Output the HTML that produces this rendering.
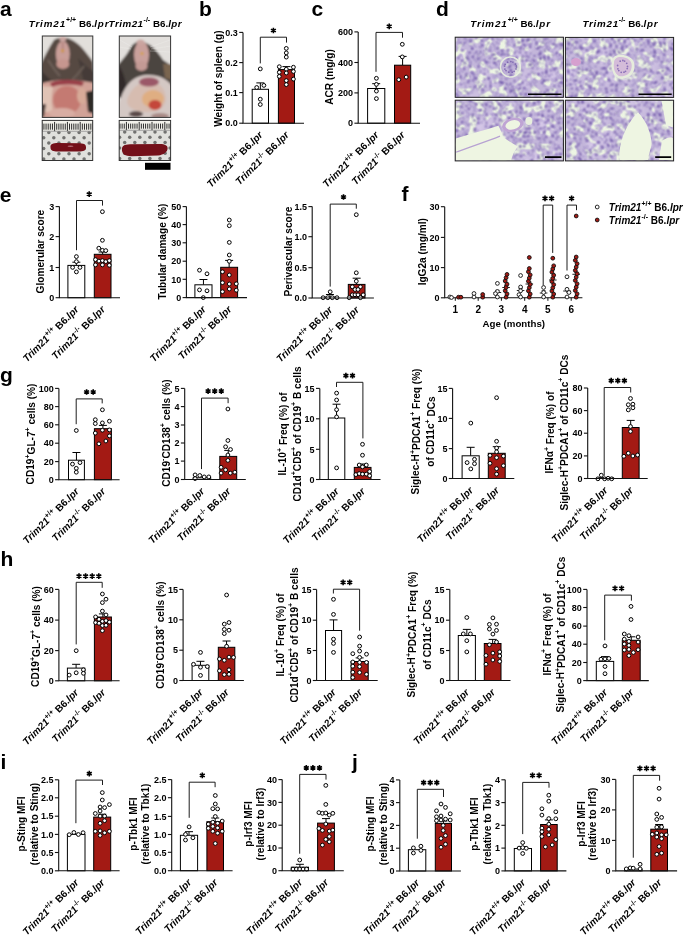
<!DOCTYPE html>
<html><head><meta charset="utf-8"><style>
html,body{margin:0;padding:0;background:#fff;}
svg{display:block;will-change:transform;}
text{font-family:"Liberation Sans", sans-serif;fill:#000;}
</style></head><body>
<svg width="685" height="936" viewBox="0 0 685 936">
<rect width="685" height="936" fill="#fff"/>
<defs>
<filter id="soft" x="-5%" y="-5%" width="110%" height="110%"><feGaussianBlur stdDeviation="1.1"/></filter>
<filter id="soft2"><feGaussianBlur stdDeviation="0.45"/></filter>
<linearGradient id="bgA" x1="0" y1="0" x2="0" y2="1"><stop offset="0" stop-color="#e9e7e6"/><stop offset="0.5" stop-color="#c8bdb8"/><stop offset="1" stop-color="#d8b1aa"/></linearGradient>
<pattern id="dotsA" width="6.5" height="6.5" patternUnits="userSpaceOnUse"><rect width="6.5" height="6.5" fill="#e6e6e6"/><circle cx="3.2" cy="3.2" r="1.5" fill="#6a6a6a"/></pattern>
<filter id="histoF0" x="0" y="0" width="1" height="1" color-interpolation-filters="sRGB">
<feFlood flood-color="#c3b6da" result="base"/>
<feTurbulence type="fractalNoise" baseFrequency="0.06" numOctaves="2" seed="8" result="n0"/>
<feColorMatrix in="n0" type="matrix" values="0 0 0 0 0.84  0 0 0 0 0.79  0 0 0 0 0.91  2.4 0 0 0 -1.05" result="tone"/>
<feTurbulence type="fractalNoise" baseFrequency="0.13 0.16" numOctaves="3" seed="3" result="n1"/>
<feColorMatrix in="n1" type="matrix" values="0 0 0 0 0.93  0 0 0 0 0.96  0 0 0 0 0.89  1 0 0 0 0" result="l1"/>
<feComponentTransfer in="l1" result="lum0"><feFuncA type="discrete" tableValues="0 0 0 0 0 0 0 0 0 0 0 0 0 0 0 0 0 0 0 0 0 0 0 0 0 0 0 0 0 1 1 1 1 1 1 1 1 1 1 1 1 1 1 1 1 1 1 1 1 1"/></feComponentTransfer>
<feGaussianBlur in="lum0" stdDeviation="1" result="lum1"/>
<feComponentTransfer in="lum1" result="lum"><feFuncA type="linear" slope="1.6" intercept="-0.2"/></feComponentTransfer>
<feTurbulence type="fractalNoise" baseFrequency="0.5" numOctaves="1" seed="14" result="n2"/>
<feColorMatrix in="n2" type="matrix" values="0 0 0 0 0.40  0 0 0 0 0.30  0 0 0 0 0.64  1 0 0 0 0" result="d1"/>
<feComponentTransfer in="d1" result="nuc0"><feFuncA type="discrete" tableValues="0 0 0 0 0 0 0 0 0 0 0 0 0 0 0 0 0 0 0 0 0 0 0 0 0 0 0 0 0 0 0 0 1 1 1 1 1 1 1 1 1 1 1 1 1 1 1 1 1 1"/></feComponentTransfer>
<feGaussianBlur in="nuc0" stdDeviation="1" result="nuc1"/>
<feComponentTransfer in="nuc1" result="nuc"><feFuncA type="linear" slope="1.5" intercept="0"/></feComponentTransfer>
<feMerge><feMergeNode in="base"/><feMergeNode in="tone"/><feMergeNode in="lum"/><feMergeNode in="nuc"/></feMerge>
</filter>
<filter id="histoF1" x="0" y="0" width="1" height="1" color-interpolation-filters="sRGB">
<feFlood flood-color="#c3b6da" result="base"/>
<feTurbulence type="fractalNoise" baseFrequency="0.06" numOctaves="2" seed="13" result="n0"/>
<feColorMatrix in="n0" type="matrix" values="0 0 0 0 0.84  0 0 0 0 0.79  0 0 0 0 0.91  2.4 0 0 0 -1.05" result="tone"/>
<feTurbulence type="fractalNoise" baseFrequency="0.13 0.16" numOctaves="3" seed="8" result="n1"/>
<feColorMatrix in="n1" type="matrix" values="0 0 0 0 0.93  0 0 0 0 0.96  0 0 0 0 0.89  1 0 0 0 0" result="l1"/>
<feComponentTransfer in="l1" result="lum0"><feFuncA type="discrete" tableValues="0 0 0 0 0 0 0 0 0 0 0 0 0 0 0 0 0 0 0 0 0 0 0 0 0 0 0 0 0 1 1 1 1 1 1 1 1 1 1 1 1 1 1 1 1 1 1 1 1 1"/></feComponentTransfer>
<feGaussianBlur in="lum0" stdDeviation="1" result="lum1"/>
<feComponentTransfer in="lum1" result="lum"><feFuncA type="linear" slope="1.6" intercept="-0.2"/></feComponentTransfer>
<feTurbulence type="fractalNoise" baseFrequency="0.5" numOctaves="1" seed="19" result="n2"/>
<feColorMatrix in="n2" type="matrix" values="0 0 0 0 0.40  0 0 0 0 0.30  0 0 0 0 0.64  1 0 0 0 0" result="d1"/>
<feComponentTransfer in="d1" result="nuc0"><feFuncA type="discrete" tableValues="0 0 0 0 0 0 0 0 0 0 0 0 0 0 0 0 0 0 0 0 0 0 0 0 0 0 0 0 0 0 0 0 1 1 1 1 1 1 1 1 1 1 1 1 1 1 1 1 1 1"/></feComponentTransfer>
<feGaussianBlur in="nuc0" stdDeviation="1" result="nuc1"/>
<feComponentTransfer in="nuc1" result="nuc"><feFuncA type="linear" slope="1.5" intercept="0"/></feComponentTransfer>
<feMerge><feMergeNode in="base"/><feMergeNode in="tone"/><feMergeNode in="lum"/><feMergeNode in="nuc"/></feMerge>
</filter>
<filter id="histoF2" x="0" y="0" width="1" height="1" color-interpolation-filters="sRGB">
<feFlood flood-color="#c3b6da" result="base"/>
<feTurbulence type="fractalNoise" baseFrequency="0.06" numOctaves="2" seed="18" result="n0"/>
<feColorMatrix in="n0" type="matrix" values="0 0 0 0 0.84  0 0 0 0 0.79  0 0 0 0 0.91  2.4 0 0 0 -1.05" result="tone"/>
<feTurbulence type="fractalNoise" baseFrequency="0.13 0.16" numOctaves="3" seed="13" result="n1"/>
<feColorMatrix in="n1" type="matrix" values="0 0 0 0 0.93  0 0 0 0 0.96  0 0 0 0 0.89  1 0 0 0 0" result="l1"/>
<feComponentTransfer in="l1" result="lum0"><feFuncA type="discrete" tableValues="0 0 0 0 0 0 0 0 0 0 0 0 0 0 0 0 0 0 0 0 0 0 0 0 0 0 0 0 0 1 1 1 1 1 1 1 1 1 1 1 1 1 1 1 1 1 1 1 1 1"/></feComponentTransfer>
<feGaussianBlur in="lum0" stdDeviation="1" result="lum1"/>
<feComponentTransfer in="lum1" result="lum"><feFuncA type="linear" slope="1.6" intercept="-0.2"/></feComponentTransfer>
<feTurbulence type="fractalNoise" baseFrequency="0.5" numOctaves="1" seed="24" result="n2"/>
<feColorMatrix in="n2" type="matrix" values="0 0 0 0 0.40  0 0 0 0 0.30  0 0 0 0 0.64  1 0 0 0 0" result="d1"/>
<feComponentTransfer in="d1" result="nuc0"><feFuncA type="discrete" tableValues="0 0 0 0 0 0 0 0 0 0 0 0 0 0 0 0 0 0 0 0 0 0 0 0 0 0 0 0 0 0 0 0 1 1 1 1 1 1 1 1 1 1 1 1 1 1 1 1 1 1"/></feComponentTransfer>
<feGaussianBlur in="nuc0" stdDeviation="1" result="nuc1"/>
<feComponentTransfer in="nuc1" result="nuc"><feFuncA type="linear" slope="1.5" intercept="0"/></feComponentTransfer>
<feMerge><feMergeNode in="base"/><feMergeNode in="tone"/><feMergeNode in="lum"/><feMergeNode in="nuc"/></feMerge>
</filter>
<filter id="histoF3" x="0" y="0" width="1" height="1" color-interpolation-filters="sRGB">
<feFlood flood-color="#c3b6da" result="base"/>
<feTurbulence type="fractalNoise" baseFrequency="0.06" numOctaves="2" seed="26" result="n0"/>
<feColorMatrix in="n0" type="matrix" values="0 0 0 0 0.84  0 0 0 0 0.79  0 0 0 0 0.91  2.4 0 0 0 -1.05" result="tone"/>
<feTurbulence type="fractalNoise" baseFrequency="0.13 0.16" numOctaves="3" seed="21" result="n1"/>
<feColorMatrix in="n1" type="matrix" values="0 0 0 0 0.93  0 0 0 0 0.96  0 0 0 0 0.89  1 0 0 0 0" result="l1"/>
<feComponentTransfer in="l1" result="lum0"><feFuncA type="discrete" tableValues="0 0 0 0 0 0 0 0 0 0 0 0 0 0 0 0 0 0 0 0 0 0 0 0 0 0 0 0 0 1 1 1 1 1 1 1 1 1 1 1 1 1 1 1 1 1 1 1 1 1"/></feComponentTransfer>
<feGaussianBlur in="lum0" stdDeviation="1" result="lum1"/>
<feComponentTransfer in="lum1" result="lum"><feFuncA type="linear" slope="1.6" intercept="-0.2"/></feComponentTransfer>
<feTurbulence type="fractalNoise" baseFrequency="0.5" numOctaves="1" seed="32" result="n2"/>
<feColorMatrix in="n2" type="matrix" values="0 0 0 0 0.40  0 0 0 0 0.30  0 0 0 0 0.64  1 0 0 0 0" result="d1"/>
<feComponentTransfer in="d1" result="nuc0"><feFuncA type="discrete" tableValues="0 0 0 0 0 0 0 0 0 0 0 0 0 0 0 0 0 0 0 0 0 0 0 0 0 0 0 0 0 0 0 0 1 1 1 1 1 1 1 1 1 1 1 1 1 1 1 1 1 1"/></feComponentTransfer>
<feGaussianBlur in="nuc0" stdDeviation="1" result="nuc1"/>
<feComponentTransfer in="nuc1" result="nuc"><feFuncA type="linear" slope="1.5" intercept="0"/></feComponentTransfer>
<feMerge><feMergeNode in="base"/><feMergeNode in="tone"/><feMergeNode in="lum"/><feMergeNode in="nuc"/></feMerge>
</filter>
</defs>
<text x="28.7" y="26.7" font-size="9.8" font-weight="bold"><tspan font-style="italic" letter-spacing="0.9">Trim21</tspan><tspan font-size="7.0" dy="-4.6">+/+</tspan><tspan dy="4.6"> B6.</tspan><tspan font-style="italic" letter-spacing="0.9">lpr</tspan></text>
<text x="108.6" y="26.7" font-size="9.8" font-weight="bold"><tspan font-style="italic" letter-spacing="0.5">Trim21</tspan><tspan font-size="7.0" dy="-4.6">-/-</tspan><tspan dy="4.6"> B6.</tspan><tspan font-style="italic" letter-spacing="0.5">lpr</tspan></text>
<clipPath id="cpA1"><rect x="42.3" y="36" width="50.5" height="81.4"/></clipPath>
<g clip-path="url(#cpA1)"><g filter="url(#soft)">
<rect x="40.3" y="34" width="54.5" height="85.4" fill="#e2dfdb"/>
<path d="M54 40 C58 37 67 37 72 40 C80 44 86 52 93 62 L95 92 L40 92 L40 66 C44 57 50 46 54 40Z" fill="#564943"/>
<path d="M40 70 C46 75 50 80 56 84 L40 88Z" fill="#3c3532"/>
<path d="M78 58 C84 64 90 70 95 72 L95 86 L84 82Z" fill="#443b37"/>
<path d="M48 60 C52 66 56 72 60 76" stroke="#6f625a" stroke-width="2" fill="none"/>
<path d="M84 66 C80 72 76 76 72 80" stroke="#6b5e57" stroke-width="2" fill="none"/>
<ellipse cx="62.8" cy="54" rx="7" ry="13" fill="#c99e98"/>
<ellipse cx="62.8" cy="64" rx="6.5" ry="5" fill="#c6968f"/>
<ellipse cx="62.8" cy="39" rx="3.5" ry="2.4" fill="#c9a5a0"/>
<path d="M62.8 42 L62.8 53" stroke="#a06f6c" stroke-width="1"/>
<circle cx="62.6" cy="50.8" r="1.4" fill="#d69a1c"/>
<path d="M40 84 C52 80 66 78 95 83 L95 120 L40 120Z" fill="#d1a297"/>
<path d="M50 83 C60 79 72 79 84 82 L82 86 C70 84 60 84 52 87Z" fill="#9a4048"/>
<path d="M40 86 L53 87 C51 96 51 104 53 112 L40 112Z" fill="#e0c3b5"/>
<ellipse cx="67" cy="100" rx="14" ry="14" fill="#c47a72"/>
<ellipse cx="62" cy="113" rx="13" ry="5" fill="#d8ada3"/>
<ellipse cx="82" cy="96" rx="5" ry="8" fill="#d7aa98"/>
<path d="M86 92 L95 90 L95 114 L88 112Z" fill="#2f2a28"/>
<path d="M40 104 L46 104 L44 117 L40 117Z" fill="#4a3b38"/>
</g></g>
<rect x="42.3" y="36" width="50.5" height="81.4" fill="none" stroke="#333" stroke-width="1"/>
<clipPath id="cpA2"><rect x="119.3" y="36" width="51.3" height="81.4"/></clipPath>
<g clip-path="url(#cpA2)"><g filter="url(#soft)">
<rect x="117.3" y="34" width="55.3" height="85.4" fill="#e2dfdc"/>
<path d="M131 47 C134 42 140 40 146 43 C153 46 158 52 163 60 L172 66 L172 95 L117 98 L117 66 C122 60 127 55 131 47Z" fill="#4c4440"/>
<path d="M117 64 C122 68 126 78 128 98 L117 98Z" fill="#312c2b"/>
<path d="M163 64 L172 64 L172 80 L165 78Z" fill="#7a6550"/>
<ellipse cx="141.5" cy="55" rx="7.5" ry="14" fill="#c9a09b"/>
<ellipse cx="141.5" cy="66" rx="6" ry="5" fill="#c39a95"/>
<ellipse cx="140.5" cy="42" rx="4" ry="2.6" fill="#caa6a1"/>
<circle cx="142" cy="53.6" r="1.4" fill="#d6a030"/>
<path d="M119 104 C123 88 131 76 146 75 C160 74 168 80 172 86 L172 120 L117 120Z" fill="#d4c8c4"/>
<path d="M127 101 C130 89 138 82 149 82 C159 82 165 88 166 98 C166 106 160 112 148 112 C136 112 127 108 127 101Z" fill="#d6bcb0"/>
<ellipse cx="149" cy="82" rx="10" ry="4.5" fill="#9b5867"/>
<ellipse cx="153" cy="99" rx="11" ry="9" fill="#dfae82"/>
<ellipse cx="155" cy="105" rx="6.5" ry="5" fill="#c4473a"/>
<ellipse cx="136" cy="114" rx="7" ry="3" fill="#5a4a48"/>
<ellipse cx="160" cy="116" rx="9" ry="3" fill="#a98a86"/>
</g></g>
<g stroke="#f4f2f0" stroke-width="0.35" opacity="0.8"><path d="M150 47 L170 40M151 49 L171 46M150 51 L170 52M132 47 L120 40M131 49 L119 47"/></g>
<rect x="119.3" y="36" width="51.3" height="81.4" fill="none" stroke="#333" stroke-width="1"/>
<clipPath id="cpS1"><rect x="42.2" y="120.4" width="50.5" height="40.099999999999994"/></clipPath>
<g clip-path="url(#cpS1)">
<rect x="42.2" y="120.4" width="50.5" height="40.099999999999994" fill="#e0e0dc"/>
<g fill="#727270" filter="url(#soft2)"><circle cx="38.70" cy="132.50" r="1.75"/><circle cx="48.80" cy="132.50" r="1.75"/><circle cx="58.90" cy="132.50" r="1.75"/><circle cx="69.00" cy="132.50" r="1.75"/><circle cx="79.10" cy="132.50" r="1.75"/><circle cx="89.20" cy="132.50" r="1.75"/><circle cx="43.70" cy="137.80" r="1.75"/><circle cx="53.80" cy="137.80" r="1.75"/><circle cx="63.90" cy="137.80" r="1.75"/><circle cx="74.00" cy="137.80" r="1.75"/><circle cx="84.10" cy="137.80" r="1.75"/><circle cx="94.20" cy="137.80" r="1.75"/><circle cx="38.70" cy="143.10" r="1.75"/><circle cx="48.80" cy="143.10" r="1.75"/><circle cx="58.90" cy="143.10" r="1.75"/><circle cx="69.00" cy="143.10" r="1.75"/><circle cx="79.10" cy="143.10" r="1.75"/><circle cx="89.20" cy="143.10" r="1.75"/><circle cx="43.70" cy="148.40" r="1.75"/><circle cx="53.80" cy="148.40" r="1.75"/><circle cx="63.90" cy="148.40" r="1.75"/><circle cx="74.00" cy="148.40" r="1.75"/><circle cx="84.10" cy="148.40" r="1.75"/><circle cx="94.20" cy="148.40" r="1.75"/><circle cx="38.70" cy="153.70" r="1.75"/><circle cx="48.80" cy="153.70" r="1.75"/><circle cx="58.90" cy="153.70" r="1.75"/><circle cx="69.00" cy="153.70" r="1.75"/><circle cx="79.10" cy="153.70" r="1.75"/><circle cx="89.20" cy="153.70" r="1.75"/><circle cx="43.70" cy="159.00" r="1.75"/><circle cx="53.80" cy="159.00" r="1.75"/><circle cx="63.90" cy="159.00" r="1.75"/><circle cx="74.00" cy="159.00" r="1.75"/><circle cx="84.10" cy="159.00" r="1.75"/><circle cx="94.20" cy="159.00" r="1.75"/></g>
<rect x="42.2" y="120.4" width="50.5" height="10.80" fill="#f2f1ea"/>
<path d="M41.80 121.90V131.20M43.93 123.60V129.70M46.06 123.60V129.70M48.19 123.60V129.70M50.32 123.60V129.70M52.45 123.60V129.70M54.60 121.90V131.20M56.73 123.60V129.70M58.86 123.60V129.70M60.99 123.60V129.70M63.12 123.60V129.70M65.25 123.60V129.70M67.40 121.90V131.20M69.53 123.60V129.70M71.66 123.60V129.70M73.79 123.60V129.70M75.92 123.60V129.70M78.05 123.60V129.70M80.20 121.90V131.20M82.33 123.60V129.70M84.46 123.60V129.70M86.59 123.60V129.70M88.72 123.60V129.70M90.85 123.60V129.70M93.00 121.90V131.20M95.13 123.60V129.70M97.26 123.60V129.70M99.39 123.60V129.70M101.52 123.60V129.70M103.65 123.60V129.70" stroke="#222" stroke-width="0.95"/>
<path d="M42.2 131.20H92.7" stroke="#888" stroke-width="0.8"/>
<path d="M50.5 147.5 C50 144 53 143 58 143 L80 143.2 C85 143.4 86 145 86 147.3 C86 150 84.5 151.5 80 151.4 L56 151.4 C52 151.3 50.6 150 50.5 147.5Z" fill="#741019"/>
<ellipse cx="70.5" cy="146.2" rx="3" ry="0.8" fill="#b06870"/>
</g>
<rect x="42.2" y="120.4" width="50.5" height="40.099999999999994" fill="none" stroke="#333" stroke-width="1"/>
<clipPath id="cpS2"><rect x="119.2" y="120.4" width="51.39999999999999" height="40.099999999999994"/></clipPath>
<g clip-path="url(#cpS2)">
<rect x="119.2" y="120.4" width="51.39999999999999" height="40.099999999999994" fill="#e0e0dc"/>
<g fill="#727270" filter="url(#soft2)"><circle cx="114.60" cy="132.00" r="1.75"/><circle cx="124.70" cy="132.00" r="1.75"/><circle cx="134.80" cy="132.00" r="1.75"/><circle cx="144.90" cy="132.00" r="1.75"/><circle cx="155.00" cy="132.00" r="1.75"/><circle cx="165.10" cy="132.00" r="1.75"/><circle cx="119.60" cy="137.30" r="1.75"/><circle cx="129.70" cy="137.30" r="1.75"/><circle cx="139.80" cy="137.30" r="1.75"/><circle cx="149.90" cy="137.30" r="1.75"/><circle cx="160.00" cy="137.30" r="1.75"/><circle cx="170.10" cy="137.30" r="1.75"/><circle cx="114.60" cy="142.60" r="1.75"/><circle cx="124.70" cy="142.60" r="1.75"/><circle cx="134.80" cy="142.60" r="1.75"/><circle cx="144.90" cy="142.60" r="1.75"/><circle cx="155.00" cy="142.60" r="1.75"/><circle cx="165.10" cy="142.60" r="1.75"/><circle cx="119.60" cy="147.90" r="1.75"/><circle cx="129.70" cy="147.90" r="1.75"/><circle cx="139.80" cy="147.90" r="1.75"/><circle cx="149.90" cy="147.90" r="1.75"/><circle cx="160.00" cy="147.90" r="1.75"/><circle cx="170.10" cy="147.90" r="1.75"/><circle cx="114.60" cy="153.20" r="1.75"/><circle cx="124.70" cy="153.20" r="1.75"/><circle cx="134.80" cy="153.20" r="1.75"/><circle cx="144.90" cy="153.20" r="1.75"/><circle cx="155.00" cy="153.20" r="1.75"/><circle cx="165.10" cy="153.20" r="1.75"/><circle cx="119.60" cy="158.50" r="1.75"/><circle cx="129.70" cy="158.50" r="1.75"/><circle cx="139.80" cy="158.50" r="1.75"/><circle cx="149.90" cy="158.50" r="1.75"/><circle cx="160.00" cy="158.50" r="1.75"/><circle cx="170.10" cy="158.50" r="1.75"/></g>
<rect x="119.2" y="120.4" width="51.39999999999999" height="9.80" fill="#f2f1ea"/>
<path d="M113.60 121.90V130.20M115.73 123.60V128.70M117.86 123.60V128.70M119.99 123.60V128.70M122.12 123.60V128.70M124.25 123.60V128.70M126.40 121.90V130.20M128.53 123.60V128.70M130.66 123.60V128.70M132.79 123.60V128.70M134.92 123.60V128.70M137.05 123.60V128.70M139.20 121.90V130.20M141.33 123.60V128.70M143.46 123.60V128.70M145.59 123.60V128.70M147.72 123.60V128.70M149.85 123.60V128.70M152.00 121.90V130.20M154.13 123.60V128.70M156.26 123.60V128.70M158.39 123.60V128.70M160.52 123.60V128.70M162.65 123.60V128.70M164.80 121.90V130.20M166.93 123.60V128.70M169.06 123.60V128.70M171.19 123.60V128.70M173.32 123.60V128.70M175.45 123.60V128.70" stroke="#222" stroke-width="0.95"/>
<path d="M119.2 130.20H170.6" stroke="#888" stroke-width="0.8"/>
<path d="M122 150.5 C121.5 146 124 144.5 130 144.3 L160 144 C165 144 167.8 145.5 167.6 148.5 C167.4 152 164 154.8 158 155.5 L132 156.2 C125 156.3 122.3 154 122 150.5Z" fill="#741019"/>
</g>
<rect x="119.2" y="120.4" width="51.39999999999999" height="40.099999999999994" fill="none" stroke="#333" stroke-width="1"/>
<rect x="145" y="162.8" width="25.5" height="7" fill="#000"/>
<text x="470.3" y="27" font-size="9.8" font-weight="bold"><tspan font-style="italic" letter-spacing="0.9">Trim21</tspan><tspan font-size="7.0" dy="-4.6">+/+</tspan><tspan dy="4.6"> B6.</tspan><tspan font-style="italic" letter-spacing="0.9">lpr</tspan></text>
<text x="582.4" y="26.6" font-size="9.8" font-weight="bold"><tspan font-style="italic" letter-spacing="0.75">Trim21</tspan><tspan font-size="7.0" dy="-4.6">-/-</tspan><tspan dy="4.6"> B6.</tspan><tspan font-style="italic" letter-spacing="0.75">lpr</tspan></text>
<rect x="455.2" y="37.2" width="108.20" height="60.10" filter="url(#histoF0)" fill="#c4b6dc"/>
<rect x="565.4" y="37.4" width="108.20" height="60.00" filter="url(#histoF1)" fill="#c4b6dc"/>
<rect x="455.2" y="100.2" width="108.20" height="60.70" filter="url(#histoF2)" fill="#c4b6dc"/>
<rect x="565.4" y="100.2" width="108.20" height="60.70" filter="url(#histoF3)" fill="#c4b6dc"/>
<circle cx="510.4" cy="67" r="10" fill="none" stroke="#e9f1df" stroke-width="1.6" opacity="0.9"/>
<g fill="#7058a8" opacity="0.75"><circle cx="516.4" cy="67.0" r="0.9"/><circle cx="506.0" cy="70.6" r="0.9"/><circle cx="510.9" cy="61.6" r="0.9"/><circle cx="514.1" cy="71.3" r="0.9"/><circle cx="504.5" cy="66.1" r="0.9"/><circle cx="515.5" cy="64.1" r="0.9"/><circle cx="508.8" cy="72.2" r="0.9"/><circle cx="507.6" cy="62.2" r="0.9"/><circle cx="516.0" cy="68.9" r="0.9"/><circle cx="504.9" cy="69.1" r="0.9"/><circle cx="512.9" cy="62.1" r="0.9"/><circle cx="512.2" cy="72.2" r="0.9"/><circle cx="505.2" cy="64.3" r="0.9"/><circle cx="516.3" cy="65.8" r="0.9"/></g>
<path d="M612 62 C612 55 620 53 627 56 C633 58 636 63 634 70 C632 77 625 80 618 78 C613 76 611 69 612 62Z" fill="#e6ecdc"/>
<path d="M614 63 C614 57 620 56 626 58 C631 60 633 64 631 70 C629 75 624 77 619 76 C615 74 613 68 614 63Z" fill="#d4bcd9"/>
<g fill="#7a5fb0" opacity="0.8"><circle cx="627.5" cy="66.5" r="0.9"/><circle cx="618.8" cy="70.6" r="0.9"/><circle cx="622.9" cy="60.5" r="0.9"/><circle cx="625.5" cy="71.3" r="0.9"/><circle cx="617.6" cy="65.5" r="0.9"/><circle cx="626.7" cy="63.3" r="0.9"/><circle cx="621.2" cy="72.3" r="0.9"/><circle cx="620.2" cy="61.2" r="0.9"/><circle cx="627.2" cy="68.6" r="0.9"/><circle cx="617.9" cy="68.8" r="0.9"/><circle cx="624.6" cy="61.1" r="0.9"/><circle cx="624.0" cy="72.2" r="0.9"/></g>
<ellipse cx="576" cy="62" rx="5" ry="4" fill="#d6a0cf"/>
<path d="M455.7 138.5 C470 134 485 130 498.4 125.7 C501 130 502 134 503 137 C508 141 513 143 517.6 146.6 C515 151 512 155 511.2 160.4 L455.7 160.4Z" fill="#eef5e2"/>
<path d="M455.7 152.2 C470 147 488 141 500 136.1" stroke="#b7a2d2" stroke-width="1.2" fill="none"/>
<ellipse cx="512.8" cy="124.9" rx="11" ry="6.8" transform="rotate(-15 512.8 124.9)" fill="#bfa4d4"/>
<ellipse cx="512.8" cy="124.9" rx="7.5" ry="4.6" transform="rotate(-15 512.8 124.9)" fill="#eef5e2"/>
<ellipse cx="528.9" cy="121" rx="3.5" ry="4" fill="#e8efdd"/>
<path d="M619.6 159.9 C618 145 625 125 638 112.3 C646 120 652 135 651.5 145 C650 152 648 157 648 159.9Z" fill="#eef5e2"/>
<path d="M661.5 100.8 L672.9 100.8 L672.9 127.4 L666 125 Z" fill="#eef5e2"/>
<path d="M662 140.8 C666 138 672 136 672.9 138 L672.9 159.9 L659 159.9Z" fill="#eef5e2"/>
<rect x="455.2" y="37.2" width="108.20" height="60.10" fill="none" stroke="#222" stroke-width="1"/>
<rect x="565.4" y="37.4" width="108.20" height="60.00" fill="none" stroke="#222" stroke-width="1"/>
<rect x="455.2" y="100.2" width="108.20" height="60.70" fill="none" stroke="#222" stroke-width="1"/>
<rect x="565.4" y="100.2" width="108.20" height="60.70" fill="none" stroke="#222" stroke-width="1"/>
<path d="M528 94.3H561.5M638.5 94.3H671.7M545 157.1H561.5M655.2 157.1H671.2" stroke="#000" stroke-width="1.6"/>
<path d="M260.35 89.30V82.90M256.35 82.90H264.35" stroke="#000" stroke-width="1" fill="none"/>
<path d="M286.45 69.60V66.60M282.45 66.60H290.45" stroke="#000" stroke-width="1" fill="none"/>
<rect x="252.20" y="89.30" width="16.30" height="33.90" fill="#fff" stroke="#000" stroke-width="1"/>
<rect x="278.40" y="69.60" width="16.10" height="53.60" fill="#a31a14" stroke="#000" stroke-width="1"/>
<circle cx="260.30" cy="68.90" r="1.9" fill="#fff" stroke="#000" stroke-width="1.0"/>
<circle cx="256.70" cy="87.50" r="1.9" fill="#fff" stroke="#000" stroke-width="1.0"/>
<circle cx="263.90" cy="85.40" r="1.9" fill="#fff" stroke="#000" stroke-width="1.0"/>
<circle cx="260.30" cy="99.20" r="1.9" fill="#fff" stroke="#000" stroke-width="1.0"/>
<circle cx="260.30" cy="104.50" r="1.9" fill="#fff" stroke="#000" stroke-width="1.0"/>
<circle cx="286.30" cy="48.40" r="1.9" fill="#fff" stroke="#000" stroke-width="1.0"/>
<circle cx="286.30" cy="52.90" r="1.9" fill="#fff" stroke="#000" stroke-width="1.0"/>
<circle cx="286.30" cy="57.10" r="1.9" fill="#fff" stroke="#000" stroke-width="1.0"/>
<circle cx="279.30" cy="66.70" r="1.9" fill="#fff" stroke="#000" stroke-width="1.0"/>
<circle cx="293.40" cy="67.20" r="1.9" fill="#fff" stroke="#000" stroke-width="1.0"/>
<circle cx="286.30" cy="69.20" r="1.9" fill="#fff" stroke="#000" stroke-width="1.0"/>
<circle cx="279.30" cy="72.30" r="1.9" fill="#fff" stroke="#000" stroke-width="1.0"/>
<circle cx="293.40" cy="71.50" r="1.9" fill="#fff" stroke="#000" stroke-width="1.0"/>
<circle cx="286.30" cy="73.00" r="1.9" fill="#fff" stroke="#000" stroke-width="1.0"/>
<circle cx="279.30" cy="76.40" r="1.9" fill="#fff" stroke="#000" stroke-width="1.0"/>
<circle cx="293.40" cy="79.10" r="1.9" fill="#fff" stroke="#000" stroke-width="1.0"/>
<circle cx="286.30" cy="80.60" r="1.9" fill="#fff" stroke="#000" stroke-width="1.0"/>
<circle cx="286.30" cy="84.60" r="1.9" fill="#fff" stroke="#000" stroke-width="1.0"/>
<path d="M243.00 32.40V123.20H304.00" stroke="#111" stroke-width="1.1" fill="none"/>
<path d="M239.20 123.20H243.00" stroke="#111" stroke-width="1.1"/>
<text x="237.80" y="126.45" font-size="9.0" font-weight="bold" text-anchor="end" >0.0</text>
<path d="M239.20 92.60H243.00" stroke="#111" stroke-width="1.1"/>
<text x="237.80" y="95.85" font-size="9.0" font-weight="bold" text-anchor="end" >0.1</text>
<path d="M239.20 62.60H243.00" stroke="#111" stroke-width="1.1"/>
<text x="237.80" y="65.85" font-size="9.0" font-weight="bold" text-anchor="end" >0.2</text>
<path d="M239.20 32.40H243.00" stroke="#111" stroke-width="1.1"/>
<text x="237.80" y="35.65" font-size="9.0" font-weight="bold" text-anchor="end" >0.3</text>
<path d="M260.30 63.40V37.20H286.50V42.60" stroke="#111" stroke-width="0.95" fill="none"/>
<path d="M273.40 27.65L273.40 33.35M270.93 29.07L275.87 31.93M275.87 29.07L270.93 31.93" stroke="#000" stroke-width="1.6"/>
<text transform="translate(218.00,78.60) rotate(-90)" font-size="10.1" font-weight="bold" text-anchor="middle" dominant-baseline="central">Weight of spleen (g)</text>
<text transform="translate(263.35,135.60) rotate(-45)" font-size="10.0" font-weight="bold" text-anchor="end"><tspan font-style="italic">Trim21</tspan><tspan font-size="7.2" dy="-4.2">+/+</tspan><tspan dy="4.2"> B6.</tspan><tspan font-style="italic">lpr</tspan></text>
<text transform="translate(289.45,135.60) rotate(-45)" font-size="10.0" font-weight="bold" text-anchor="end"><tspan font-style="italic">Trim21</tspan><tspan font-size="7.2" dy="-4.2">-/-</tspan><tspan dy="4.2"> B6.</tspan><tspan font-style="italic">lpr</tspan></text>
<path d="M376.20 88.50V83.70M372.20 83.70H380.20" stroke="#000" stroke-width="1" fill="none"/>
<path d="M402.60 65.20V56.40M398.60 56.40H406.60" stroke="#000" stroke-width="1" fill="none"/>
<rect x="367.60" y="88.50" width="17.20" height="34.70" fill="#fff" stroke="#000" stroke-width="1"/>
<rect x="394.50" y="65.20" width="16.20" height="58.00" fill="#a31a14" stroke="#000" stroke-width="1"/>
<circle cx="376.40" cy="78.30" r="1.9" fill="#fff" stroke="#000" stroke-width="1.0"/>
<circle cx="376.40" cy="84.40" r="1.9" fill="#fff" stroke="#000" stroke-width="1.0"/>
<circle cx="376.40" cy="91.10" r="1.9" fill="#fff" stroke="#000" stroke-width="1.0"/>
<circle cx="376.40" cy="98.60" r="1.9" fill="#fff" stroke="#000" stroke-width="1.0"/>
<circle cx="402.30" cy="44.30" r="1.9" fill="#fff" stroke="#000" stroke-width="1.0"/>
<circle cx="402.30" cy="56.90" r="1.9" fill="#fff" stroke="#000" stroke-width="1.0"/>
<circle cx="398.80" cy="79.70" r="1.9" fill="#fff" stroke="#000" stroke-width="1.0"/>
<circle cx="406.20" cy="77.10" r="1.9" fill="#fff" stroke="#000" stroke-width="1.0"/>
<path d="M358.20 31.90V123.20H420.00" stroke="#111" stroke-width="1.1" fill="none"/>
<path d="M354.40 123.20H358.20" stroke="#111" stroke-width="1.1"/>
<text x="353.00" y="126.45" font-size="9.0" font-weight="bold" text-anchor="end" >0</text>
<path d="M354.40 92.90H358.20" stroke="#111" stroke-width="1.1"/>
<text x="353.00" y="96.15" font-size="9.0" font-weight="bold" text-anchor="end" >200</text>
<path d="M354.40 62.50H358.20" stroke="#111" stroke-width="1.1"/>
<text x="353.00" y="65.75" font-size="9.0" font-weight="bold" text-anchor="end" >400</text>
<path d="M354.40 31.90H358.20" stroke="#111" stroke-width="1.1"/>
<text x="353.00" y="35.15" font-size="9.0" font-weight="bold" text-anchor="end" >600</text>
<path d="M376.00 71.80V32.40H402.50V37.70" stroke="#111" stroke-width="0.95" fill="none"/>
<path d="M389.20 23.45L389.20 29.15M386.73 24.88L391.67 27.73M391.67 24.88L386.73 27.73" stroke="#000" stroke-width="1.6"/>
<text transform="translate(329.60,77.00) rotate(-90)" font-size="10.1" font-weight="bold" text-anchor="middle" dominant-baseline="central">ACR (mg/g)</text>
<text transform="translate(379.20,135.60) rotate(-45)" font-size="10.0" font-weight="bold" text-anchor="end"><tspan font-style="italic">Trim21</tspan><tspan font-size="7.2" dy="-4.2">+/+</tspan><tspan dy="4.2"> B6.</tspan><tspan font-style="italic">lpr</tspan></text>
<text transform="translate(405.60,135.60) rotate(-45)" font-size="10.0" font-weight="bold" text-anchor="end"><tspan font-style="italic">Trim21</tspan><tspan font-size="7.2" dy="-4.2">-/-</tspan><tspan dy="4.2"> B6.</tspan><tspan font-style="italic">lpr</tspan></text>
<path d="M76.35 265.40V262.20M72.35 262.20H80.35" stroke="#000" stroke-width="1" fill="none"/>
<path d="M102.65 254.30V252.00M98.65 252.00H106.65" stroke="#000" stroke-width="1" fill="none"/>
<rect x="67.90" y="265.40" width="16.90" height="32.30" fill="#fff" stroke="#000" stroke-width="1"/>
<rect x="94.30" y="254.30" width="16.70" height="43.40" fill="#a31a14" stroke="#000" stroke-width="1"/>
<circle cx="76.40" cy="256.60" r="1.9" fill="#fff" stroke="#000" stroke-width="1.0"/>
<circle cx="76.40" cy="261.60" r="1.9" fill="#fff" stroke="#000" stroke-width="1.0"/>
<circle cx="72.60" cy="267.40" r="1.9" fill="#fff" stroke="#000" stroke-width="1.0"/>
<circle cx="80.00" cy="267.40" r="1.9" fill="#fff" stroke="#000" stroke-width="1.0"/>
<circle cx="76.40" cy="271.90" r="1.9" fill="#fff" stroke="#000" stroke-width="1.0"/>
<circle cx="102.40" cy="211.70" r="1.9" fill="#fff" stroke="#000" stroke-width="1.0"/>
<circle cx="102.40" cy="240.30" r="1.9" fill="#fff" stroke="#000" stroke-width="1.0"/>
<circle cx="98.80" cy="248.20" r="1.9" fill="#fff" stroke="#000" stroke-width="1.0"/>
<circle cx="102.40" cy="250.30" r="1.9" fill="#fff" stroke="#000" stroke-width="1.0"/>
<circle cx="105.80" cy="250.60" r="1.9" fill="#fff" stroke="#000" stroke-width="1.0"/>
<circle cx="95.50" cy="259.60" r="1.9" fill="#fff" stroke="#000" stroke-width="1.0"/>
<circle cx="98.90" cy="261.10" r="1.9" fill="#fff" stroke="#000" stroke-width="1.0"/>
<circle cx="102.40" cy="260.60" r="1.9" fill="#fff" stroke="#000" stroke-width="1.0"/>
<circle cx="105.80" cy="261.60" r="1.9" fill="#fff" stroke="#000" stroke-width="1.0"/>
<circle cx="109.30" cy="260.60" r="1.9" fill="#fff" stroke="#000" stroke-width="1.0"/>
<circle cx="95.50" cy="264.90" r="1.9" fill="#fff" stroke="#000" stroke-width="1.0"/>
<circle cx="102.40" cy="264.90" r="1.9" fill="#fff" stroke="#000" stroke-width="1.0"/>
<circle cx="109.30" cy="265.30" r="1.9" fill="#fff" stroke="#000" stroke-width="1.0"/>
<path d="M59.40 206.60V297.70H120.00" stroke="#111" stroke-width="1.1" fill="none"/>
<path d="M55.60 297.70H59.40" stroke="#111" stroke-width="1.1"/>
<text x="54.20" y="300.95" font-size="9.0" font-weight="bold" text-anchor="end" >0</text>
<path d="M55.60 267.50H59.40" stroke="#111" stroke-width="1.1"/>
<text x="54.20" y="270.75" font-size="9.0" font-weight="bold" text-anchor="end" >1</text>
<path d="M55.60 236.60H59.40" stroke="#111" stroke-width="1.1"/>
<text x="54.20" y="239.85" font-size="9.0" font-weight="bold" text-anchor="end" >2</text>
<path d="M55.60 206.60H59.40" stroke="#111" stroke-width="1.1"/>
<text x="54.20" y="209.85" font-size="9.0" font-weight="bold" text-anchor="end" >3</text>
<path d="M76.50 250.20V200.50H102.50V205.60" stroke="#111" stroke-width="0.95" fill="none"/>
<path d="M89.20 191.35L89.20 197.05M86.73 192.77L91.67 195.62M91.67 192.77L86.73 195.62" stroke="#000" stroke-width="1.6"/>
<text transform="translate(40.40,251.60) rotate(-90)" font-size="10.1" font-weight="bold" text-anchor="middle" dominant-baseline="central">Glomerular score</text>
<text transform="translate(79.35,310.10) rotate(-45)" font-size="10.0" font-weight="bold" text-anchor="end"><tspan font-style="italic">Trim21</tspan><tspan font-size="7.2" dy="-4.2">+/+</tspan><tspan dy="4.2"> B6.</tspan><tspan font-style="italic">lpr</tspan></text>
<text transform="translate(105.65,310.10) rotate(-45)" font-size="10.0" font-weight="bold" text-anchor="end"><tspan font-style="italic">Trim21</tspan><tspan font-size="7.2" dy="-4.2">-/-</tspan><tspan dy="4.2"> B6.</tspan><tspan font-style="italic">lpr</tspan></text>
<path d="M203.45 284.80V279.50M199.45 279.50H207.45" stroke="#000" stroke-width="1" fill="none"/>
<path d="M229.15 267.30V260.40M225.15 260.40H233.15" stroke="#000" stroke-width="1" fill="none"/>
<rect x="194.90" y="284.80" width="17.10" height="12.80" fill="#fff" stroke="#000" stroke-width="1"/>
<rect x="220.70" y="267.30" width="16.90" height="30.30" fill="#a31a14" stroke="#000" stroke-width="1"/>
<circle cx="199.50" cy="270.20" r="1.9" fill="#fff" stroke="#000" stroke-width="1.0"/>
<circle cx="207.00" cy="273.80" r="1.9" fill="#fff" stroke="#000" stroke-width="1.0"/>
<circle cx="199.50" cy="289.90" r="1.9" fill="#fff" stroke="#000" stroke-width="1.0"/>
<circle cx="207.00" cy="290.80" r="1.9" fill="#fff" stroke="#000" stroke-width="1.0"/>
<circle cx="203.30" cy="297.60" r="1.9" fill="#fff" stroke="#000" stroke-width="1.0"/>
<circle cx="229.30" cy="220.00" r="1.9" fill="#fff" stroke="#000" stroke-width="1.0"/>
<circle cx="229.30" cy="225.70" r="1.9" fill="#fff" stroke="#000" stroke-width="1.0"/>
<circle cx="229.30" cy="242.40" r="1.9" fill="#fff" stroke="#000" stroke-width="1.0"/>
<circle cx="229.30" cy="255.00" r="1.9" fill="#fff" stroke="#000" stroke-width="1.0"/>
<circle cx="229.30" cy="261.30" r="1.9" fill="#fff" stroke="#000" stroke-width="1.0"/>
<circle cx="222.50" cy="271.80" r="1.9" fill="#fff" stroke="#000" stroke-width="1.0"/>
<circle cx="229.30" cy="275.00" r="1.9" fill="#fff" stroke="#000" stroke-width="1.0"/>
<circle cx="222.50" cy="282.70" r="1.9" fill="#fff" stroke="#000" stroke-width="1.0"/>
<circle cx="229.30" cy="284.00" r="1.9" fill="#fff" stroke="#000" stroke-width="1.0"/>
<circle cx="236.30" cy="283.80" r="1.9" fill="#fff" stroke="#000" stroke-width="1.0"/>
<circle cx="229.30" cy="289.00" r="1.9" fill="#fff" stroke="#000" stroke-width="1.0"/>
<circle cx="236.30" cy="290.20" r="1.9" fill="#fff" stroke="#000" stroke-width="1.0"/>
<circle cx="222.50" cy="291.70" r="1.9" fill="#fff" stroke="#000" stroke-width="1.0"/>
<path d="M186.40 206.60V297.60H247.00" stroke="#111" stroke-width="1.1" fill="none"/>
<path d="M182.60 297.60H186.40" stroke="#111" stroke-width="1.1"/>
<text x="181.20" y="300.85" font-size="9.0" font-weight="bold" text-anchor="end" >0</text>
<path d="M182.60 279.30H186.40" stroke="#111" stroke-width="1.1"/>
<text x="181.20" y="282.55" font-size="9.0" font-weight="bold" text-anchor="end" >10</text>
<path d="M182.60 261.20H186.40" stroke="#111" stroke-width="1.1"/>
<text x="181.20" y="264.45" font-size="9.0" font-weight="bold" text-anchor="end" >20</text>
<path d="M182.60 242.80H186.40" stroke="#111" stroke-width="1.1"/>
<text x="181.20" y="246.05" font-size="9.0" font-weight="bold" text-anchor="end" >30</text>
<path d="M182.60 224.60H186.40" stroke="#111" stroke-width="1.1"/>
<text x="181.20" y="227.85" font-size="9.0" font-weight="bold" text-anchor="end" >40</text>
<path d="M182.60 206.60H186.40" stroke="#111" stroke-width="1.1"/>
<text x="181.20" y="209.85" font-size="9.0" font-weight="bold" text-anchor="end" >50</text>
<text transform="translate(162.30,251.60) rotate(-90)" font-size="10.1" font-weight="bold" text-anchor="middle" dominant-baseline="central">Tubular damage (%)</text>
<text transform="translate(206.45,310.00) rotate(-45)" font-size="10.0" font-weight="bold" text-anchor="end"><tspan font-style="italic">Trim21</tspan><tspan font-size="7.2" dy="-4.2">+/+</tspan><tspan dy="4.2"> B6.</tspan><tspan font-style="italic">lpr</tspan></text>
<text transform="translate(232.15,310.00) rotate(-45)" font-size="10.0" font-weight="bold" text-anchor="end"><tspan font-style="italic">Trim21</tspan><tspan font-size="7.2" dy="-4.2">-/-</tspan><tspan dy="4.2"> B6.</tspan><tspan font-style="italic">lpr</tspan></text>
<path d="M329.95 297.30V294.50M325.95 294.50H333.95" stroke="#000" stroke-width="1" fill="none"/>
<path d="M356.65 284.40V278.20M352.65 278.20H360.65" stroke="#000" stroke-width="1" fill="none"/>
<path d="M321.70 298.00V297.00H338.20V298.00" fill="none" stroke="#000" stroke-width="1"/>
<rect x="348.30" y="284.40" width="16.70" height="13.60" fill="#a31a14" stroke="#000" stroke-width="1"/>
<circle cx="330.20" cy="291.80" r="1.9" fill="#fff" stroke="#000" stroke-width="1.0"/>
<circle cx="323.10" cy="297.70" r="1.9" fill="#fff" stroke="#000" stroke-width="1.0"/>
<circle cx="327.80" cy="297.70" r="1.9" fill="#fff" stroke="#000" stroke-width="1.0"/>
<circle cx="332.30" cy="297.70" r="1.9" fill="#fff" stroke="#000" stroke-width="1.0"/>
<circle cx="337.00" cy="297.70" r="1.9" fill="#fff" stroke="#000" stroke-width="1.0"/>
<circle cx="356.30" cy="214.70" r="1.9" fill="#fff" stroke="#000" stroke-width="1.0"/>
<circle cx="356.30" cy="272.80" r="1.9" fill="#fff" stroke="#000" stroke-width="1.0"/>
<circle cx="356.30" cy="281.20" r="1.9" fill="#fff" stroke="#000" stroke-width="1.0"/>
<circle cx="352.30" cy="286.80" r="1.9" fill="#fff" stroke="#000" stroke-width="1.0"/>
<circle cx="360.40" cy="286.80" r="1.9" fill="#fff" stroke="#000" stroke-width="1.0"/>
<circle cx="355.00" cy="289.50" r="1.9" fill="#fff" stroke="#000" stroke-width="1.0"/>
<circle cx="358.00" cy="289.50" r="1.9" fill="#fff" stroke="#000" stroke-width="1.0"/>
<circle cx="352.30" cy="294.80" r="1.9" fill="#fff" stroke="#000" stroke-width="1.0"/>
<circle cx="355.00" cy="294.80" r="1.9" fill="#fff" stroke="#000" stroke-width="1.0"/>
<circle cx="358.00" cy="294.80" r="1.9" fill="#fff" stroke="#000" stroke-width="1.0"/>
<circle cx="363.20" cy="294.80" r="1.9" fill="#fff" stroke="#000" stroke-width="1.0"/>
<circle cx="349.20" cy="297.70" r="1.9" fill="#fff" stroke="#000" stroke-width="1.0"/>
<circle cx="360.40" cy="297.70" r="1.9" fill="#fff" stroke="#000" stroke-width="1.0"/>
<path d="M312.20 206.60V298.00H373.90" stroke="#111" stroke-width="1.1" fill="none"/>
<path d="M308.40 298.00H312.20" stroke="#111" stroke-width="1.1"/>
<text x="307.00" y="301.25" font-size="9.0" font-weight="bold" text-anchor="end" >0.0</text>
<path d="M308.40 267.70H312.20" stroke="#111" stroke-width="1.1"/>
<text x="307.00" y="270.95" font-size="9.0" font-weight="bold" text-anchor="end" >0.5</text>
<path d="M308.40 236.70H312.20" stroke="#111" stroke-width="1.1"/>
<text x="307.00" y="239.95" font-size="9.0" font-weight="bold" text-anchor="end" >1.0</text>
<path d="M308.40 206.60H312.20" stroke="#111" stroke-width="1.1"/>
<text x="307.00" y="209.85" font-size="9.0" font-weight="bold" text-anchor="end" >1.5</text>
<path d="M330.20 286.60V204.10H356.30V208.70" stroke="#111" stroke-width="0.95" fill="none"/>
<path d="M343.50 194.15L343.50 199.85M341.03 195.57L345.97 198.43M345.97 195.57L341.03 198.43" stroke="#000" stroke-width="1.6"/>
<text transform="translate(288.00,251.60) rotate(-90)" font-size="10.1" font-weight="bold" text-anchor="middle" dominant-baseline="central">Perivascular score</text>
<text transform="translate(332.95,310.40) rotate(-45)" font-size="10.0" font-weight="bold" text-anchor="end"><tspan font-style="italic">Trim21</tspan><tspan font-size="7.2" dy="-4.2">+/+</tspan><tspan dy="4.2"> B6.</tspan><tspan font-style="italic">lpr</tspan></text>
<text transform="translate(359.65,310.40) rotate(-45)" font-size="10.0" font-weight="bold" text-anchor="end"><tspan font-style="italic">Trim21</tspan><tspan font-size="7.2" dy="-4.2">-/-</tspan><tspan dy="4.2"> B6.</tspan><tspan font-style="italic">lpr</tspan></text>
<path d="M76.45 460.20V452.50M72.45 452.50H80.45" stroke="#000" stroke-width="1" fill="none"/>
<path d="M102.90 428.70V425.40M98.90 425.40H106.90" stroke="#000" stroke-width="1" fill="none"/>
<rect x="68.50" y="460.20" width="15.90" height="19.50" fill="#fff" stroke="#000" stroke-width="1"/>
<rect x="94.40" y="428.70" width="17.00" height="51.00" fill="#a31a14" stroke="#000" stroke-width="1"/>
<circle cx="76.30" cy="430.50" r="1.9" fill="#fff" stroke="#000" stroke-width="1.0"/>
<circle cx="72.50" cy="464.10" r="1.9" fill="#fff" stroke="#000" stroke-width="1.0"/>
<circle cx="80.00" cy="462.60" r="1.9" fill="#fff" stroke="#000" stroke-width="1.0"/>
<circle cx="76.30" cy="468.30" r="1.9" fill="#fff" stroke="#000" stroke-width="1.0"/>
<circle cx="76.30" cy="472.20" r="1.9" fill="#fff" stroke="#000" stroke-width="1.0"/>
<circle cx="102.40" cy="409.80" r="1.9" fill="#fff" stroke="#000" stroke-width="1.0"/>
<circle cx="95.30" cy="419.70" r="1.9" fill="#fff" stroke="#000" stroke-width="1.0"/>
<circle cx="95.30" cy="423.60" r="1.9" fill="#fff" stroke="#000" stroke-width="1.0"/>
<circle cx="102.40" cy="422.90" r="1.9" fill="#fff" stroke="#000" stroke-width="1.0"/>
<circle cx="109.40" cy="421.20" r="1.9" fill="#fff" stroke="#000" stroke-width="1.0"/>
<circle cx="102.40" cy="430.20" r="1.9" fill="#fff" stroke="#000" stroke-width="1.0"/>
<circle cx="109.40" cy="429.90" r="1.9" fill="#fff" stroke="#000" stroke-width="1.0"/>
<circle cx="95.30" cy="433.10" r="1.9" fill="#fff" stroke="#000" stroke-width="1.0"/>
<circle cx="109.40" cy="435.90" r="1.9" fill="#fff" stroke="#000" stroke-width="1.0"/>
<circle cx="105.90" cy="441.00" r="1.9" fill="#fff" stroke="#000" stroke-width="1.0"/>
<circle cx="98.90" cy="443.80" r="1.9" fill="#fff" stroke="#000" stroke-width="1.0"/>
<path d="M58.90 388.40V479.70H119.60" stroke="#111" stroke-width="1.1" fill="none"/>
<path d="M55.10 479.70H58.90" stroke="#111" stroke-width="1.1"/>
<text x="53.70" y="482.95" font-size="9.0" font-weight="bold" text-anchor="end" >0</text>
<path d="M55.10 461.60H58.90" stroke="#111" stroke-width="1.1"/>
<text x="53.70" y="464.85" font-size="9.0" font-weight="bold" text-anchor="end" >20</text>
<path d="M55.10 443.20H58.90" stroke="#111" stroke-width="1.1"/>
<text x="53.70" y="446.45" font-size="9.0" font-weight="bold" text-anchor="end" >40</text>
<path d="M55.10 424.80H58.90" stroke="#111" stroke-width="1.1"/>
<text x="53.70" y="428.05" font-size="9.0" font-weight="bold" text-anchor="end" >60</text>
<path d="M55.10 406.60H58.90" stroke="#111" stroke-width="1.1"/>
<text x="53.70" y="409.85" font-size="9.0" font-weight="bold" text-anchor="end" >80</text>
<path d="M55.10 388.40H58.90" stroke="#111" stroke-width="1.1"/>
<text x="53.70" y="391.65" font-size="9.0" font-weight="bold" text-anchor="end" >100</text>
<path d="M76.20 424.20V398.90H102.20V403.40" stroke="#111" stroke-width="0.95" fill="none"/>
<path d="M86.60 389.15L86.60 394.85M84.13 390.57L89.07 393.43M89.07 390.57L84.13 393.43" stroke="#000" stroke-width="1.6"/>
<path d="M93.20 389.15L93.20 394.85M90.73 390.57L95.67 393.43M95.67 390.57L90.73 393.43" stroke="#000" stroke-width="1.6"/>
<text transform="translate(30.70,434.00) rotate(-90)" font-size="10.1" font-weight="bold" text-anchor="middle" dominant-baseline="central">CD19<tspan font-size="7.0" dy="-3.90">+</tspan><tspan dy="3.90">GL-7</tspan><tspan font-size="7.0" dy="-3.90">+</tspan><tspan dy="3.90"> cells (%)</tspan></text>
<text transform="translate(79.45,492.10) rotate(-45)" font-size="10.0" font-weight="bold" text-anchor="end"><tspan font-style="italic">Trim21</tspan><tspan font-size="7.2" dy="-4.2">+/+</tspan><tspan dy="4.2"> B6.</tspan><tspan font-style="italic">lpr</tspan></text>
<text transform="translate(105.90,492.10) rotate(-45)" font-size="10.0" font-weight="bold" text-anchor="end"><tspan font-style="italic">Trim21</tspan><tspan font-size="7.2" dy="-4.2">-/-</tspan><tspan dy="4.2"> B6.</tspan><tspan font-style="italic">lpr</tspan></text>
<path d="M228.25 456.40V450.40M224.25 450.40H232.25" stroke="#000" stroke-width="1" fill="none"/>
<rect x="193.20" y="477.80" width="17.50" height="1.70" fill="#fff" stroke="#000" stroke-width="1"/>
<rect x="219.80" y="456.40" width="16.90" height="23.10" fill="#a31a14" stroke="#000" stroke-width="1"/>
<circle cx="195.10" cy="474.90" r="1.9" fill="#fff" stroke="#000" stroke-width="1.0"/>
<circle cx="195.10" cy="478.60" r="1.9" fill="#fff" stroke="#000" stroke-width="1.0"/>
<circle cx="199.80" cy="475.50" r="1.9" fill="#fff" stroke="#000" stroke-width="1.0"/>
<circle cx="204.20" cy="476.90" r="1.9" fill="#fff" stroke="#000" stroke-width="1.0"/>
<circle cx="208.80" cy="476.90" r="1.9" fill="#fff" stroke="#000" stroke-width="1.0"/>
<circle cx="227.90" cy="409.00" r="1.9" fill="#fff" stroke="#000" stroke-width="1.0"/>
<circle cx="227.90" cy="440.50" r="1.9" fill="#fff" stroke="#000" stroke-width="1.0"/>
<circle cx="225.60" cy="446.80" r="1.9" fill="#fff" stroke="#000" stroke-width="1.0"/>
<circle cx="230.50" cy="449.50" r="1.9" fill="#fff" stroke="#000" stroke-width="1.0"/>
<circle cx="227.90" cy="455.00" r="1.9" fill="#fff" stroke="#000" stroke-width="1.0"/>
<circle cx="227.90" cy="460.40" r="1.9" fill="#fff" stroke="#000" stroke-width="1.0"/>
<circle cx="221.10" cy="467.30" r="1.9" fill="#fff" stroke="#000" stroke-width="1.0"/>
<circle cx="225.60" cy="469.90" r="1.9" fill="#fff" stroke="#000" stroke-width="1.0"/>
<circle cx="221.10" cy="473.10" r="1.9" fill="#fff" stroke="#000" stroke-width="1.0"/>
<circle cx="230.30" cy="473.10" r="1.9" fill="#fff" stroke="#000" stroke-width="1.0"/>
<circle cx="234.80" cy="472.20" r="1.9" fill="#fff" stroke="#000" stroke-width="1.0"/>
<path d="M184.70 388.40V479.50H245.80" stroke="#111" stroke-width="1.1" fill="none"/>
<path d="M180.90 479.50H184.70" stroke="#111" stroke-width="1.1"/>
<text x="179.50" y="482.75" font-size="9.0" font-weight="bold" text-anchor="end" >0</text>
<path d="M180.90 461.10H184.70" stroke="#111" stroke-width="1.1"/>
<text x="179.50" y="464.35" font-size="9.0" font-weight="bold" text-anchor="end" >1</text>
<path d="M180.90 443.00H184.70" stroke="#111" stroke-width="1.1"/>
<text x="179.50" y="446.25" font-size="9.0" font-weight="bold" text-anchor="end" >2</text>
<path d="M180.90 425.00H184.70" stroke="#111" stroke-width="1.1"/>
<text x="179.50" y="428.25" font-size="9.0" font-weight="bold" text-anchor="end" >3</text>
<path d="M180.90 406.60H184.70" stroke="#111" stroke-width="1.1"/>
<text x="179.50" y="409.85" font-size="9.0" font-weight="bold" text-anchor="end" >4</text>
<path d="M180.90 388.40H184.70" stroke="#111" stroke-width="1.1"/>
<text x="179.50" y="391.65" font-size="9.0" font-weight="bold" text-anchor="end" >5</text>
<path d="M201.50 469.10V398.10H228.10V403.20" stroke="#111" stroke-width="0.95" fill="none"/>
<path d="M208.10 388.25L208.10 393.95M205.63 389.68L210.57 392.53M210.57 389.68L205.63 392.53" stroke="#000" stroke-width="1.6"/>
<path d="M214.70 388.25L214.70 393.95M212.23 389.68L217.17 392.53M217.17 389.68L212.23 392.53" stroke="#000" stroke-width="1.6"/>
<path d="M221.30 388.25L221.30 393.95M218.83 389.68L223.77 392.53M223.77 389.68L218.83 392.53" stroke="#000" stroke-width="1.6"/>
<text transform="translate(166.00,433.00) rotate(-90)" font-size="10.1" font-weight="bold" text-anchor="middle" dominant-baseline="central">CD19<tspan font-size="7.0" dy="-3.90">-</tspan><tspan dy="3.90">CD138</tspan><tspan font-size="7.0" dy="-3.90">+</tspan><tspan dy="3.90"> cells (%)</tspan></text>
<text transform="translate(204.95,491.90) rotate(-45)" font-size="10.0" font-weight="bold" text-anchor="end"><tspan font-style="italic">Trim21</tspan><tspan font-size="7.2" dy="-4.2">+/+</tspan><tspan dy="4.2"> B6.</tspan><tspan font-style="italic">lpr</tspan></text>
<text transform="translate(231.25,491.90) rotate(-45)" font-size="10.0" font-weight="bold" text-anchor="end"><tspan font-style="italic">Trim21</tspan><tspan font-size="7.2" dy="-4.2">-/-</tspan><tspan dy="4.2"> B6.</tspan><tspan font-style="italic">lpr</tspan></text>
<path d="M336.55 418.00V404.20M332.55 404.20H340.55" stroke="#000" stroke-width="1" fill="none"/>
<path d="M362.65 467.40V464.00M358.65 464.00H366.65" stroke="#000" stroke-width="1" fill="none"/>
<rect x="328.30" y="418.00" width="16.50" height="61.50" fill="#fff" stroke="#000" stroke-width="1"/>
<rect x="354.30" y="467.40" width="16.70" height="12.10" fill="#a31a14" stroke="#000" stroke-width="1"/>
<circle cx="336.60" cy="393.10" r="1.9" fill="#fff" stroke="#000" stroke-width="1.0"/>
<circle cx="336.60" cy="400.00" r="1.9" fill="#fff" stroke="#000" stroke-width="1.0"/>
<circle cx="336.60" cy="409.70" r="1.9" fill="#fff" stroke="#000" stroke-width="1.0"/>
<circle cx="336.60" cy="416.90" r="1.9" fill="#fff" stroke="#000" stroke-width="1.0"/>
<circle cx="336.60" cy="467.90" r="1.9" fill="#fff" stroke="#000" stroke-width="1.0"/>
<circle cx="362.50" cy="444.30" r="1.9" fill="#fff" stroke="#000" stroke-width="1.0"/>
<circle cx="362.50" cy="455.20" r="1.9" fill="#fff" stroke="#000" stroke-width="1.0"/>
<circle cx="359.20" cy="465.00" r="1.9" fill="#fff" stroke="#000" stroke-width="1.0"/>
<circle cx="362.50" cy="466.90" r="1.9" fill="#fff" stroke="#000" stroke-width="1.0"/>
<circle cx="366.30" cy="465.00" r="1.9" fill="#fff" stroke="#000" stroke-width="1.0"/>
<circle cx="355.90" cy="474.60" r="1.9" fill="#fff" stroke="#000" stroke-width="1.0"/>
<circle cx="359.20" cy="473.60" r="1.9" fill="#fff" stroke="#000" stroke-width="1.0"/>
<circle cx="362.50" cy="474.10" r="1.9" fill="#fff" stroke="#000" stroke-width="1.0"/>
<circle cx="366.30" cy="474.10" r="1.9" fill="#fff" stroke="#000" stroke-width="1.0"/>
<circle cx="369.60" cy="471.50" r="1.9" fill="#fff" stroke="#000" stroke-width="1.0"/>
<circle cx="369.60" cy="475.70" r="1.9" fill="#fff" stroke="#000" stroke-width="1.0"/>
<path d="M319.80 388.40V479.50H380.50" stroke="#111" stroke-width="1.1" fill="none"/>
<path d="M316.00 479.50H319.80" stroke="#111" stroke-width="1.1"/>
<text x="314.60" y="482.75" font-size="9.0" font-weight="bold" text-anchor="end" >0</text>
<path d="M316.00 449.30H319.80" stroke="#111" stroke-width="1.1"/>
<text x="314.60" y="452.55" font-size="9.0" font-weight="bold" text-anchor="end" >5</text>
<path d="M316.00 418.80H319.80" stroke="#111" stroke-width="1.1"/>
<text x="314.60" y="422.05" font-size="9.0" font-weight="bold" text-anchor="end" >10</text>
<path d="M316.00 388.40H319.80" stroke="#111" stroke-width="1.1"/>
<text x="314.60" y="391.65" font-size="9.0" font-weight="bold" text-anchor="end" >15</text>
<path d="M336.50 387.00V382.30H362.90V438.40" stroke="#111" stroke-width="0.95" fill="none"/>
<path d="M345.90 372.85L345.90 378.55M343.43 374.27L348.37 377.12M348.37 374.27L343.43 377.12" stroke="#000" stroke-width="1.6"/>
<path d="M352.50 372.85L352.50 378.55M350.03 374.27L354.97 377.12M354.97 374.27L350.03 377.12" stroke="#000" stroke-width="1.6"/>
<text transform="translate(282.80,434.00) rotate(-90)" font-size="10.1" font-weight="bold" text-anchor="middle" dominant-baseline="central">IL-10<tspan font-size="7.0" dy="-3.90">+</tspan><tspan dy="3.90"> Freq (%) of</tspan></text>
<text transform="translate(297.00,434.00) rotate(-90)" font-size="10.1" font-weight="bold" text-anchor="middle" dominant-baseline="central">CD1d<tspan font-size="7.0" dy="-3.90">+</tspan><tspan dy="3.90">CD5</tspan><tspan font-size="7.0" dy="-3.90">+</tspan><tspan dy="3.90"> of CD19</tspan><tspan font-size="7.0" dy="-3.90">+</tspan><tspan dy="3.90"> B cells</tspan></text>
<text transform="translate(339.55,491.90) rotate(-45)" font-size="10.0" font-weight="bold" text-anchor="end"><tspan font-style="italic">Trim21</tspan><tspan font-size="7.2" dy="-4.2">+/+</tspan><tspan dy="4.2"> B6.</tspan><tspan font-style="italic">lpr</tspan></text>
<text transform="translate(365.65,491.90) rotate(-45)" font-size="10.0" font-weight="bold" text-anchor="end"><tspan font-style="italic">Trim21</tspan><tspan font-size="7.2" dy="-4.2">-/-</tspan><tspan dy="4.2"> B6.</tspan><tspan font-style="italic">lpr</tspan></text>
<path d="M470.65 455.80V447.30M466.65 447.30H474.65" stroke="#000" stroke-width="1" fill="none"/>
<path d="M496.75 453.30V446.70M492.75 446.70H500.75" stroke="#000" stroke-width="1" fill="none"/>
<rect x="462.10" y="455.80" width="17.10" height="22.70" fill="#fff" stroke="#000" stroke-width="1"/>
<rect x="488.30" y="453.30" width="16.90" height="25.20" fill="#a31a14" stroke="#000" stroke-width="1"/>
<circle cx="470.80" cy="423.10" r="1.9" fill="#fff" stroke="#000" stroke-width="1.0"/>
<circle cx="467.10" cy="462.60" r="1.9" fill="#fff" stroke="#000" stroke-width="1.0"/>
<circle cx="474.50" cy="459.30" r="1.9" fill="#fff" stroke="#000" stroke-width="1.0"/>
<circle cx="474.50" cy="463.70" r="1.9" fill="#fff" stroke="#000" stroke-width="1.0"/>
<circle cx="470.80" cy="468.90" r="1.9" fill="#fff" stroke="#000" stroke-width="1.0"/>
<circle cx="496.60" cy="397.70" r="1.9" fill="#fff" stroke="#000" stroke-width="1.0"/>
<circle cx="496.60" cy="441.30" r="1.9" fill="#fff" stroke="#000" stroke-width="1.0"/>
<circle cx="496.60" cy="448.00" r="1.9" fill="#fff" stroke="#000" stroke-width="1.0"/>
<circle cx="496.60" cy="451.80" r="1.9" fill="#fff" stroke="#000" stroke-width="1.0"/>
<circle cx="490.00" cy="455.40" r="1.9" fill="#fff" stroke="#000" stroke-width="1.0"/>
<circle cx="496.60" cy="457.70" r="1.9" fill="#fff" stroke="#000" stroke-width="1.0"/>
<circle cx="503.40" cy="456.10" r="1.9" fill="#fff" stroke="#000" stroke-width="1.0"/>
<circle cx="490.00" cy="463.30" r="1.9" fill="#fff" stroke="#000" stroke-width="1.0"/>
<circle cx="503.40" cy="465.70" r="1.9" fill="#fff" stroke="#000" stroke-width="1.0"/>
<circle cx="496.60" cy="468.70" r="1.9" fill="#fff" stroke="#000" stroke-width="1.0"/>
<circle cx="496.60" cy="474.10" r="1.9" fill="#fff" stroke="#000" stroke-width="1.0"/>
<path d="M452.60 388.40V478.50H514.30" stroke="#111" stroke-width="1.1" fill="none"/>
<path d="M448.80 478.50H452.60" stroke="#111" stroke-width="1.1"/>
<text x="447.40" y="481.75" font-size="9.0" font-weight="bold" text-anchor="end" >0</text>
<path d="M448.80 448.60H452.60" stroke="#111" stroke-width="1.1"/>
<text x="447.40" y="451.85" font-size="9.0" font-weight="bold" text-anchor="end" >5</text>
<path d="M448.80 418.40H452.60" stroke="#111" stroke-width="1.1"/>
<text x="447.40" y="421.65" font-size="9.0" font-weight="bold" text-anchor="end" >10</text>
<path d="M448.80 388.40H452.60" stroke="#111" stroke-width="1.1"/>
<text x="447.40" y="391.65" font-size="9.0" font-weight="bold" text-anchor="end" >15</text>
<text transform="translate(415.60,431.50) rotate(-90)" font-size="10.1" font-weight="bold" text-anchor="middle" dominant-baseline="central">Siglec-H<tspan font-size="7.0" dy="-3.90">+</tspan><tspan dy="3.90">PDCA1</tspan><tspan font-size="7.0" dy="-3.90">+</tspan><tspan dy="3.90"> Freq (%)</tspan></text>
<text transform="translate(430.80,431.50) rotate(-90)" font-size="10.1" font-weight="bold" text-anchor="middle" dominant-baseline="central">of CD11c<tspan font-size="7.0" dy="-3.90">+</tspan><tspan dy="3.90"> DCs</tspan></text>
<text transform="translate(473.65,490.90) rotate(-45)" font-size="10.0" font-weight="bold" text-anchor="end"><tspan font-style="italic">Trim21</tspan><tspan font-size="7.2" dy="-4.2">+/+</tspan><tspan dy="4.2"> B6.</tspan><tspan font-style="italic">lpr</tspan></text>
<text transform="translate(499.75,490.90) rotate(-45)" font-size="10.0" font-weight="bold" text-anchor="end"><tspan font-style="italic">Trim21</tspan><tspan font-size="7.2" dy="-4.2">-/-</tspan><tspan dy="4.2"> B6.</tspan><tspan font-style="italic">lpr</tspan></text>
<path d="M630.70 427.50V420.40M626.70 420.40H634.70" stroke="#000" stroke-width="1" fill="none"/>
<path d="M596.80 478.50V477.70H613.70V478.50" fill="none" stroke="#000" stroke-width="1"/>
<rect x="622.30" y="427.50" width="16.80" height="51.00" fill="#a31a14" stroke="#000" stroke-width="1"/>
<circle cx="601.30" cy="475.20" r="1.9" fill="#fff" stroke="#000" stroke-width="1.0"/>
<circle cx="597.90" cy="478.80" r="1.9" fill="#fff" stroke="#000" stroke-width="1.0"/>
<circle cx="604.60" cy="478.80" r="1.9" fill="#fff" stroke="#000" stroke-width="1.0"/>
<circle cx="608.10" cy="478.30" r="1.9" fill="#fff" stroke="#000" stroke-width="1.0"/>
<circle cx="611.70" cy="478.80" r="1.9" fill="#fff" stroke="#000" stroke-width="1.0"/>
<circle cx="630.50" cy="398.50" r="1.9" fill="#fff" stroke="#000" stroke-width="1.0"/>
<circle cx="628.30" cy="404.70" r="1.9" fill="#fff" stroke="#000" stroke-width="1.0"/>
<circle cx="632.90" cy="404.20" r="1.9" fill="#fff" stroke="#000" stroke-width="1.0"/>
<circle cx="628.30" cy="409.90" r="1.9" fill="#fff" stroke="#000" stroke-width="1.0"/>
<circle cx="632.90" cy="407.80" r="1.9" fill="#fff" stroke="#000" stroke-width="1.0"/>
<circle cx="630.50" cy="426.50" r="1.9" fill="#fff" stroke="#000" stroke-width="1.0"/>
<circle cx="630.50" cy="431.40" r="1.9" fill="#fff" stroke="#000" stroke-width="1.0"/>
<circle cx="623.90" cy="456.30" r="1.9" fill="#fff" stroke="#000" stroke-width="1.0"/>
<circle cx="628.30" cy="453.20" r="1.9" fill="#fff" stroke="#000" stroke-width="1.0"/>
<circle cx="632.90" cy="456.00" r="1.9" fill="#fff" stroke="#000" stroke-width="1.0"/>
<circle cx="637.60" cy="455.00" r="1.9" fill="#fff" stroke="#000" stroke-width="1.0"/>
<path d="M587.70 388.00V478.50H647.70" stroke="#111" stroke-width="1.1" fill="none"/>
<path d="M583.90 478.50H587.70" stroke="#111" stroke-width="1.1"/>
<text x="582.50" y="481.75" font-size="9.0" font-weight="bold" text-anchor="end" >0</text>
<path d="M583.90 455.90H587.70" stroke="#111" stroke-width="1.1"/>
<text x="582.50" y="459.15" font-size="9.0" font-weight="bold" text-anchor="end" >20</text>
<path d="M583.90 433.20H587.70" stroke="#111" stroke-width="1.1"/>
<text x="582.50" y="436.45" font-size="9.0" font-weight="bold" text-anchor="end" >40</text>
<path d="M583.90 410.60H587.70" stroke="#111" stroke-width="1.1"/>
<text x="582.50" y="413.85" font-size="9.0" font-weight="bold" text-anchor="end" >60</text>
<path d="M583.90 388.00H587.70" stroke="#111" stroke-width="1.1"/>
<text x="582.50" y="391.25" font-size="9.0" font-weight="bold" text-anchor="end" >80</text>
<path d="M604.20 475.80V387.50H630.70V392.50" stroke="#111" stroke-width="0.95" fill="none"/>
<path d="M611.20 377.85L611.20 383.55M608.73 379.27L613.67 382.12M613.67 379.27L608.73 382.12" stroke="#000" stroke-width="1.6"/>
<path d="M617.80 377.85L617.80 383.55M615.33 379.27L620.27 382.12M620.27 379.27L615.33 382.12" stroke="#000" stroke-width="1.6"/>
<path d="M624.40 377.85L624.40 383.55M621.93 379.27L626.87 382.12M626.87 379.27L621.93 382.12" stroke="#000" stroke-width="1.6"/>
<text transform="translate(549.90,432.50) rotate(-90)" font-size="10.1" font-weight="bold" text-anchor="middle" dominant-baseline="central">IFN&#945;<tspan font-size="7.0" dy="-3.90">+</tspan><tspan dy="3.90"> Freq (%) of</tspan></text>
<text transform="translate(564.00,432.50) rotate(-90)" font-size="10.1" font-weight="bold" text-anchor="middle" dominant-baseline="central">Siglec-H<tspan font-size="7.0" dy="-3.90">+</tspan><tspan dy="3.90">PDCA1</tspan><tspan font-size="7.0" dy="-3.90">+</tspan><tspan dy="3.90"> of CD11c</tspan><tspan font-size="7.0" dy="-3.90">+</tspan><tspan dy="3.90"> DCs</tspan></text>
<text transform="translate(608.25,490.90) rotate(-45)" font-size="10.0" font-weight="bold" text-anchor="end"><tspan font-style="italic">Trim21</tspan><tspan font-size="7.2" dy="-4.2">+/+</tspan><tspan dy="4.2"> B6.</tspan><tspan font-style="italic">lpr</tspan></text>
<text transform="translate(633.70,490.90) rotate(-45)" font-size="10.0" font-weight="bold" text-anchor="end"><tspan font-style="italic">Trim21</tspan><tspan font-size="7.2" dy="-4.2">-/-</tspan><tspan dy="4.2"> B6.</tspan><tspan font-style="italic">lpr</tspan></text>
<path d="M76.10 668.10V664.30M72.10 664.30H80.10" stroke="#000" stroke-width="1" fill="none"/>
<path d="M102.90 617.00V613.90M98.90 613.90H106.90" stroke="#000" stroke-width="1" fill="none"/>
<rect x="67.40" y="668.10" width="17.40" height="12.70" fill="#fff" stroke="#000" stroke-width="1"/>
<rect x="94.40" y="617.00" width="17.00" height="63.80" fill="#a31a14" stroke="#000" stroke-width="1"/>
<circle cx="76.20" cy="650.70" r="1.9" fill="#fff" stroke="#000" stroke-width="1.0"/>
<circle cx="69.20" cy="675.10" r="1.9" fill="#fff" stroke="#000" stroke-width="1.0"/>
<circle cx="76.20" cy="672.80" r="1.9" fill="#fff" stroke="#000" stroke-width="1.0"/>
<circle cx="83.40" cy="669.80" r="1.9" fill="#fff" stroke="#000" stroke-width="1.0"/>
<circle cx="83.40" cy="673.30" r="1.9" fill="#fff" stroke="#000" stroke-width="1.0"/>
<circle cx="102.40" cy="594.00" r="1.9" fill="#fff" stroke="#000" stroke-width="1.0"/>
<circle cx="106.00" cy="599.20" r="1.9" fill="#fff" stroke="#000" stroke-width="1.0"/>
<circle cx="102.40" cy="602.60" r="1.9" fill="#fff" stroke="#000" stroke-width="1.0"/>
<circle cx="102.40" cy="611.10" r="1.9" fill="#fff" stroke="#000" stroke-width="1.0"/>
<circle cx="106.00" cy="614.90" r="1.9" fill="#fff" stroke="#000" stroke-width="1.0"/>
<circle cx="95.60" cy="616.90" r="1.9" fill="#fff" stroke="#000" stroke-width="1.0"/>
<circle cx="99.00" cy="619.30" r="1.9" fill="#fff" stroke="#000" stroke-width="1.0"/>
<circle cx="102.40" cy="621.30" r="1.9" fill="#fff" stroke="#000" stroke-width="1.0"/>
<circle cx="106.00" cy="620.60" r="1.9" fill="#fff" stroke="#000" stroke-width="1.0"/>
<circle cx="109.40" cy="622.10" r="1.9" fill="#fff" stroke="#000" stroke-width="1.0"/>
<circle cx="95.60" cy="622.60" r="1.9" fill="#fff" stroke="#000" stroke-width="1.0"/>
<circle cx="99.00" cy="623.30" r="1.9" fill="#fff" stroke="#000" stroke-width="1.0"/>
<circle cx="102.40" cy="625.60" r="1.9" fill="#fff" stroke="#000" stroke-width="1.0"/>
<circle cx="106.00" cy="625.30" r="1.9" fill="#fff" stroke="#000" stroke-width="1.0"/>
<circle cx="102.40" cy="630.70" r="1.9" fill="#fff" stroke="#000" stroke-width="1.0"/>
<path d="M58.90 589.40V680.80H119.60" stroke="#111" stroke-width="1.1" fill="none"/>
<path d="M55.10 680.80H58.90" stroke="#111" stroke-width="1.1"/>
<text x="53.70" y="684.05" font-size="9.0" font-weight="bold" text-anchor="end" >0</text>
<path d="M55.10 650.60H58.90" stroke="#111" stroke-width="1.1"/>
<text x="53.70" y="653.85" font-size="9.0" font-weight="bold" text-anchor="end" >20</text>
<path d="M55.10 620.10H58.90" stroke="#111" stroke-width="1.1"/>
<text x="53.70" y="623.35" font-size="9.0" font-weight="bold" text-anchor="end" >40</text>
<path d="M55.10 589.40H58.90" stroke="#111" stroke-width="1.1"/>
<text x="53.70" y="592.65" font-size="9.0" font-weight="bold" text-anchor="end" >60</text>
<path d="M76.20 644.40V582.30H102.20V587.80" stroke="#111" stroke-width="0.95" fill="none"/>
<path d="M79.00 573.35L79.00 579.05M76.53 574.78L81.47 577.62M81.47 574.78L76.53 577.62" stroke="#000" stroke-width="1.6"/>
<path d="M85.60 573.35L85.60 579.05M83.13 574.78L88.07 577.62M88.07 574.78L83.13 577.62" stroke="#000" stroke-width="1.6"/>
<path d="M92.20 573.35L92.20 579.05M89.73 574.78L94.67 577.62M94.67 574.78L89.73 577.62" stroke="#000" stroke-width="1.6"/>
<path d="M98.80 573.35L98.80 579.05M96.33 574.78L101.27 577.62M101.27 574.78L96.33 577.62" stroke="#000" stroke-width="1.6"/>
<text transform="translate(35.50,636.50) rotate(-90)" font-size="10.1" font-weight="bold" text-anchor="middle" dominant-baseline="central">CD19<tspan font-size="7.0" dy="-3.90">+</tspan><tspan dy="3.90">GL-7</tspan><tspan font-size="7.0" dy="-3.90">+</tspan><tspan dy="3.90"> cells (%)</tspan></text>
<text transform="translate(79.10,693.20) rotate(-45)" font-size="10.0" font-weight="bold" text-anchor="end"><tspan font-style="italic">Trim21</tspan><tspan font-size="7.2" dy="-4.2">+/+</tspan><tspan dy="4.2"> B6.</tspan><tspan font-style="italic">lpr</tspan></text>
<text transform="translate(105.90,693.20) rotate(-45)" font-size="10.0" font-weight="bold" text-anchor="end"><tspan font-style="italic">Trim21</tspan><tspan font-size="7.2" dy="-4.2">-/-</tspan><tspan dy="4.2"> B6.</tspan><tspan font-style="italic">lpr</tspan></text>
<path d="M200.45 665.30V661.30M196.45 661.30H204.45" stroke="#000" stroke-width="1" fill="none"/>
<path d="M226.55 647.30V641.00M222.55 641.00H230.55" stroke="#000" stroke-width="1" fill="none"/>
<rect x="192.10" y="665.30" width="16.70" height="15.20" fill="#fff" stroke="#000" stroke-width="1"/>
<rect x="218.30" y="647.30" width="16.50" height="33.20" fill="#a31a14" stroke="#000" stroke-width="1"/>
<circle cx="200.50" cy="652.40" r="1.9" fill="#fff" stroke="#000" stroke-width="1.0"/>
<circle cx="193.50" cy="664.30" r="1.9" fill="#fff" stroke="#000" stroke-width="1.0"/>
<circle cx="200.50" cy="667.20" r="1.9" fill="#fff" stroke="#000" stroke-width="1.0"/>
<circle cx="207.30" cy="666.60" r="1.9" fill="#fff" stroke="#000" stroke-width="1.0"/>
<circle cx="200.50" cy="675.40" r="1.9" fill="#fff" stroke="#000" stroke-width="1.0"/>
<circle cx="226.60" cy="595.00" r="1.9" fill="#fff" stroke="#000" stroke-width="1.0"/>
<circle cx="224.30" cy="624.10" r="1.9" fill="#fff" stroke="#000" stroke-width="1.0"/>
<circle cx="229.00" cy="622.50" r="1.9" fill="#fff" stroke="#000" stroke-width="1.0"/>
<circle cx="224.30" cy="629.40" r="1.9" fill="#fff" stroke="#000" stroke-width="1.0"/>
<circle cx="229.00" cy="630.20" r="1.9" fill="#fff" stroke="#000" stroke-width="1.0"/>
<circle cx="224.30" cy="633.60" r="1.9" fill="#fff" stroke="#000" stroke-width="1.0"/>
<circle cx="226.60" cy="646.30" r="1.9" fill="#fff" stroke="#000" stroke-width="1.0"/>
<circle cx="219.50" cy="659.00" r="1.9" fill="#fff" stroke="#000" stroke-width="1.0"/>
<circle cx="224.30" cy="660.30" r="1.9" fill="#fff" stroke="#000" stroke-width="1.0"/>
<circle cx="229.00" cy="657.10" r="1.9" fill="#fff" stroke="#000" stroke-width="1.0"/>
<circle cx="233.50" cy="657.40" r="1.9" fill="#fff" stroke="#000" stroke-width="1.0"/>
<circle cx="219.50" cy="670.80" r="1.9" fill="#fff" stroke="#000" stroke-width="1.0"/>
<circle cx="229.00" cy="669.80" r="1.9" fill="#fff" stroke="#000" stroke-width="1.0"/>
<circle cx="224.30" cy="674.60" r="1.9" fill="#fff" stroke="#000" stroke-width="1.0"/>
<circle cx="229.00" cy="674.30" r="1.9" fill="#fff" stroke="#000" stroke-width="1.0"/>
<path d="M183.10 589.40V680.50H243.90" stroke="#111" stroke-width="1.1" fill="none"/>
<path d="M179.30 680.50H183.10" stroke="#111" stroke-width="1.1"/>
<text x="177.90" y="683.75" font-size="9.0" font-weight="bold" text-anchor="end" >0</text>
<path d="M179.30 650.20H183.10" stroke="#111" stroke-width="1.1"/>
<text x="177.90" y="653.45" font-size="9.0" font-weight="bold" text-anchor="end" >5</text>
<path d="M179.30 619.80H183.10" stroke="#111" stroke-width="1.1"/>
<text x="177.90" y="623.05" font-size="9.0" font-weight="bold" text-anchor="end" >10</text>
<path d="M179.30 589.40H183.10" stroke="#111" stroke-width="1.1"/>
<text x="177.90" y="592.65" font-size="9.0" font-weight="bold" text-anchor="end" >15</text>
<text transform="translate(160.00,635.00) rotate(-90)" font-size="10.1" font-weight="bold" text-anchor="middle" dominant-baseline="central">CD19<tspan font-size="7.0" dy="-3.90">-</tspan><tspan dy="3.90">CD138</tspan><tspan font-size="7.0" dy="-3.90">+</tspan><tspan dy="3.90"> cells (%)</tspan></text>
<text transform="translate(203.45,692.90) rotate(-45)" font-size="10.0" font-weight="bold" text-anchor="end"><tspan font-style="italic">Trim21</tspan><tspan font-size="7.2" dy="-4.2">+/+</tspan><tspan dy="4.2"> B6.</tspan><tspan font-style="italic">lpr</tspan></text>
<text transform="translate(229.55,692.90) rotate(-45)" font-size="10.0" font-weight="bold" text-anchor="end"><tspan font-style="italic">Trim21</tspan><tspan font-size="7.2" dy="-4.2">-/-</tspan><tspan dy="4.2"> B6.</tspan><tspan font-style="italic">lpr</tspan></text>
<path d="M333.55 630.50V619.90M329.55 619.90H337.55" stroke="#000" stroke-width="1" fill="none"/>
<path d="M359.65 661.50V657.90M355.65 657.90H363.65" stroke="#000" stroke-width="1" fill="none"/>
<rect x="325.50" y="630.50" width="16.10" height="50.00" fill="#fff" stroke="#000" stroke-width="1"/>
<rect x="351.10" y="661.50" width="17.10" height="19.00" fill="#a31a14" stroke="#000" stroke-width="1"/>
<circle cx="333.50" cy="599.30" r="1.9" fill="#fff" stroke="#000" stroke-width="1.0"/>
<circle cx="333.50" cy="614.40" r="1.9" fill="#fff" stroke="#000" stroke-width="1.0"/>
<circle cx="333.50" cy="639.10" r="1.9" fill="#fff" stroke="#000" stroke-width="1.0"/>
<circle cx="333.50" cy="643.40" r="1.9" fill="#fff" stroke="#000" stroke-width="1.0"/>
<circle cx="333.50" cy="652.40" r="1.9" fill="#fff" stroke="#000" stroke-width="1.0"/>
<circle cx="359.60" cy="637.00" r="1.9" fill="#fff" stroke="#000" stroke-width="1.0"/>
<circle cx="359.60" cy="646.10" r="1.9" fill="#fff" stroke="#000" stroke-width="1.0"/>
<circle cx="359.60" cy="651.10" r="1.9" fill="#fff" stroke="#000" stroke-width="1.0"/>
<circle cx="352.80" cy="653.70" r="1.9" fill="#fff" stroke="#000" stroke-width="1.0"/>
<circle cx="366.50" cy="654.20" r="1.9" fill="#fff" stroke="#000" stroke-width="1.0"/>
<circle cx="359.60" cy="657.40" r="1.9" fill="#fff" stroke="#000" stroke-width="1.0"/>
<circle cx="352.80" cy="662.00" r="1.9" fill="#fff" stroke="#000" stroke-width="1.0"/>
<circle cx="359.60" cy="662.40" r="1.9" fill="#fff" stroke="#000" stroke-width="1.0"/>
<circle cx="366.50" cy="662.40" r="1.9" fill="#fff" stroke="#000" stroke-width="1.0"/>
<circle cx="352.80" cy="666.20" r="1.9" fill="#fff" stroke="#000" stroke-width="1.0"/>
<circle cx="359.60" cy="666.60" r="1.9" fill="#fff" stroke="#000" stroke-width="1.0"/>
<circle cx="352.80" cy="672.20" r="1.9" fill="#fff" stroke="#000" stroke-width="1.0"/>
<circle cx="359.60" cy="672.50" r="1.9" fill="#fff" stroke="#000" stroke-width="1.0"/>
<circle cx="366.50" cy="674.30" r="1.9" fill="#fff" stroke="#000" stroke-width="1.0"/>
<circle cx="352.80" cy="677.50" r="1.9" fill="#fff" stroke="#000" stroke-width="1.0"/>
<path d="M316.60 589.40V680.50H377.70" stroke="#111" stroke-width="1.1" fill="none"/>
<path d="M312.80 680.50H316.60" stroke="#111" stroke-width="1.1"/>
<text x="311.40" y="683.75" font-size="9.0" font-weight="bold" text-anchor="end" >0</text>
<path d="M312.80 650.50H316.60" stroke="#111" stroke-width="1.1"/>
<text x="311.40" y="653.75" font-size="9.0" font-weight="bold" text-anchor="end" >5</text>
<path d="M312.80 620.20H316.60" stroke="#111" stroke-width="1.1"/>
<text x="311.40" y="623.45" font-size="9.0" font-weight="bold" text-anchor="end" >10</text>
<path d="M312.80 589.40H316.60" stroke="#111" stroke-width="1.1"/>
<text x="311.40" y="592.65" font-size="9.0" font-weight="bold" text-anchor="end" >15</text>
<path d="M333.40 593.50V589.20H359.60V630.70" stroke="#111" stroke-width="0.95" fill="none"/>
<path d="M343.10 579.55L343.10 585.25M340.63 580.98L345.57 583.82M345.57 580.98L340.63 583.82" stroke="#000" stroke-width="1.6"/>
<path d="M349.70 579.55L349.70 585.25M347.23 580.98L352.17 583.82M352.17 580.98L347.23 583.82" stroke="#000" stroke-width="1.6"/>
<text transform="translate(280.00,635.00) rotate(-90)" font-size="10.1" font-weight="bold" text-anchor="middle" dominant-baseline="central">IL-10<tspan font-size="7.0" dy="-3.90">+</tspan><tspan dy="3.90"> Freq (%) of</tspan></text>
<text transform="translate(294.20,635.00) rotate(-90)" font-size="10.1" font-weight="bold" text-anchor="middle" dominant-baseline="central">CD1d<tspan font-size="7.0" dy="-3.90">+</tspan><tspan dy="3.90">CD5</tspan><tspan font-size="7.0" dy="-3.90">+</tspan><tspan dy="3.90"> of CD19</tspan><tspan font-size="7.0" dy="-3.90">+</tspan><tspan dy="3.90"> B cells</tspan></text>
<text transform="translate(336.55,692.90) rotate(-45)" font-size="10.0" font-weight="bold" text-anchor="end"><tspan font-style="italic">Trim21</tspan><tspan font-size="7.2" dy="-4.2">+/+</tspan><tspan dy="4.2"> B6.</tspan><tspan font-style="italic">lpr</tspan></text>
<text transform="translate(362.65,692.90) rotate(-45)" font-size="10.0" font-weight="bold" text-anchor="end"><tspan font-style="italic">Trim21</tspan><tspan font-size="7.2" dy="-4.2">-/-</tspan><tspan dy="4.2"> B6.</tspan><tspan font-style="italic">lpr</tspan></text>
<path d="M466.85 635.50V629.40M462.85 629.40H470.85" stroke="#000" stroke-width="1" fill="none"/>
<path d="M492.65 643.50V639.40M488.65 639.40H496.65" stroke="#000" stroke-width="1" fill="none"/>
<rect x="458.30" y="635.50" width="17.10" height="45.00" fill="#fff" stroke="#000" stroke-width="1"/>
<rect x="484.30" y="643.50" width="16.70" height="37.00" fill="#a31a14" stroke="#000" stroke-width="1"/>
<circle cx="466.80" cy="617.50" r="1.9" fill="#fff" stroke="#000" stroke-width="1.0"/>
<circle cx="463.30" cy="633.90" r="1.9" fill="#fff" stroke="#000" stroke-width="1.0"/>
<circle cx="470.40" cy="633.90" r="1.9" fill="#fff" stroke="#000" stroke-width="1.0"/>
<circle cx="466.80" cy="640.70" r="1.9" fill="#fff" stroke="#000" stroke-width="1.0"/>
<circle cx="466.80" cy="651.90" r="1.9" fill="#fff" stroke="#000" stroke-width="1.0"/>
<circle cx="492.90" cy="617.90" r="1.9" fill="#fff" stroke="#000" stroke-width="1.0"/>
<circle cx="489.40" cy="624.40" r="1.9" fill="#fff" stroke="#000" stroke-width="1.0"/>
<circle cx="496.50" cy="624.20" r="1.9" fill="#fff" stroke="#000" stroke-width="1.0"/>
<circle cx="489.40" cy="629.10" r="1.9" fill="#fff" stroke="#000" stroke-width="1.0"/>
<circle cx="496.50" cy="630.40" r="1.9" fill="#fff" stroke="#000" stroke-width="1.0"/>
<circle cx="492.90" cy="634.10" r="1.9" fill="#fff" stroke="#000" stroke-width="1.0"/>
<circle cx="496.50" cy="642.00" r="1.9" fill="#fff" stroke="#000" stroke-width="1.0"/>
<circle cx="489.40" cy="644.80" r="1.9" fill="#fff" stroke="#000" stroke-width="1.0"/>
<circle cx="486.00" cy="655.50" r="1.9" fill="#fff" stroke="#000" stroke-width="1.0"/>
<circle cx="492.90" cy="653.10" r="1.9" fill="#fff" stroke="#000" stroke-width="1.0"/>
<circle cx="499.70" cy="651.90" r="1.9" fill="#fff" stroke="#000" stroke-width="1.0"/>
<circle cx="499.70" cy="656.00" r="1.9" fill="#fff" stroke="#000" stroke-width="1.0"/>
<circle cx="492.90" cy="660.00" r="1.9" fill="#fff" stroke="#000" stroke-width="1.0"/>
<circle cx="499.70" cy="661.40" r="1.9" fill="#fff" stroke="#000" stroke-width="1.0"/>
<circle cx="486.00" cy="664.20" r="1.9" fill="#fff" stroke="#000" stroke-width="1.0"/>
<path d="M449.80 589.40V680.50H510.50" stroke="#111" stroke-width="1.1" fill="none"/>
<path d="M446.00 680.50H449.80" stroke="#111" stroke-width="1.1"/>
<text x="444.60" y="683.75" font-size="9.0" font-weight="bold" text-anchor="end" >0</text>
<path d="M446.00 650.50H449.80" stroke="#111" stroke-width="1.1"/>
<text x="444.60" y="653.75" font-size="9.0" font-weight="bold" text-anchor="end" >5</text>
<path d="M446.00 620.20H449.80" stroke="#111" stroke-width="1.1"/>
<text x="444.60" y="623.45" font-size="9.0" font-weight="bold" text-anchor="end" >10</text>
<path d="M446.00 589.40H449.80" stroke="#111" stroke-width="1.1"/>
<text x="444.60" y="592.65" font-size="9.0" font-weight="bold" text-anchor="end" >15</text>
<text transform="translate(411.80,634.50) rotate(-90)" font-size="10.1" font-weight="bold" text-anchor="middle" dominant-baseline="central">Siglec-H<tspan font-size="7.0" dy="-3.90">+</tspan><tspan dy="3.90">PDCA1</tspan><tspan font-size="7.0" dy="-3.90">+</tspan><tspan dy="3.90"> Freq (%)</tspan></text>
<text transform="translate(427.00,634.50) rotate(-90)" font-size="10.1" font-weight="bold" text-anchor="middle" dominant-baseline="central">of CD11c<tspan font-size="7.0" dy="-3.90">+</tspan><tspan dy="3.90"> DCs</tspan></text>
<text transform="translate(469.85,692.90) rotate(-45)" font-size="10.0" font-weight="bold" text-anchor="end"><tspan font-style="italic">Trim21</tspan><tspan font-size="7.2" dy="-4.2">+/+</tspan><tspan dy="4.2"> B6.</tspan><tspan font-style="italic">lpr</tspan></text>
<text transform="translate(495.65,692.90) rotate(-45)" font-size="10.0" font-weight="bold" text-anchor="end"><tspan font-style="italic">Trim21</tspan><tspan font-size="7.2" dy="-4.2">-/-</tspan><tspan dy="4.2"> B6.</tspan><tspan font-style="italic">lpr</tspan></text>
<path d="M605.00 661.40V656.60M601.00 656.60H609.00" stroke="#000" stroke-width="1" fill="none"/>
<path d="M631.25 640.30V636.80M627.25 636.80H635.25" stroke="#000" stroke-width="1" fill="none"/>
<rect x="596.30" y="661.40" width="17.40" height="19.20" fill="#fff" stroke="#000" stroke-width="1"/>
<rect x="622.30" y="640.30" width="17.90" height="40.30" fill="#a31a14" stroke="#000" stroke-width="1"/>
<circle cx="605.00" cy="645.90" r="1.9" fill="#fff" stroke="#000" stroke-width="1.0"/>
<circle cx="601.00" cy="659.20" r="1.9" fill="#fff" stroke="#000" stroke-width="1.0"/>
<circle cx="605.00" cy="658.90" r="1.9" fill="#fff" stroke="#000" stroke-width="1.0"/>
<circle cx="608.90" cy="658.50" r="1.9" fill="#fff" stroke="#000" stroke-width="1.0"/>
<circle cx="605.00" cy="666.50" r="1.9" fill="#fff" stroke="#000" stroke-width="1.0"/>
<circle cx="605.00" cy="673.70" r="1.9" fill="#fff" stroke="#000" stroke-width="1.0"/>
<circle cx="631.00" cy="606.40" r="1.9" fill="#fff" stroke="#000" stroke-width="1.0"/>
<circle cx="631.00" cy="619.50" r="1.9" fill="#fff" stroke="#000" stroke-width="1.0"/>
<circle cx="624.30" cy="634.00" r="1.9" fill="#fff" stroke="#000" stroke-width="1.0"/>
<circle cx="628.90" cy="635.70" r="1.9" fill="#fff" stroke="#000" stroke-width="1.0"/>
<circle cx="638.10" cy="637.00" r="1.9" fill="#fff" stroke="#000" stroke-width="1.0"/>
<circle cx="624.30" cy="639.20" r="1.9" fill="#fff" stroke="#000" stroke-width="1.0"/>
<circle cx="628.90" cy="641.40" r="1.9" fill="#fff" stroke="#000" stroke-width="1.0"/>
<circle cx="638.10" cy="642.10" r="1.9" fill="#fff" stroke="#000" stroke-width="1.0"/>
<circle cx="624.30" cy="644.00" r="1.9" fill="#fff" stroke="#000" stroke-width="1.0"/>
<circle cx="628.90" cy="645.40" r="1.9" fill="#fff" stroke="#000" stroke-width="1.0"/>
<circle cx="624.30" cy="650.00" r="1.9" fill="#fff" stroke="#000" stroke-width="1.0"/>
<circle cx="628.90" cy="649.40" r="1.9" fill="#fff" stroke="#000" stroke-width="1.0"/>
<circle cx="638.10" cy="649.70" r="1.9" fill="#fff" stroke="#000" stroke-width="1.0"/>
<circle cx="633.40" cy="652.50" r="1.9" fill="#fff" stroke="#000" stroke-width="1.0"/>
<circle cx="628.90" cy="655.60" r="1.9" fill="#fff" stroke="#000" stroke-width="1.0"/>
<path d="M587.00 589.40V680.60H648.80" stroke="#111" stroke-width="1.1" fill="none"/>
<path d="M583.20 680.60H587.00" stroke="#111" stroke-width="1.1"/>
<text x="581.80" y="683.85" font-size="9.0" font-weight="bold" text-anchor="end" >0</text>
<path d="M583.20 662.50H587.00" stroke="#111" stroke-width="1.1"/>
<text x="581.80" y="665.75" font-size="9.0" font-weight="bold" text-anchor="end" >20</text>
<path d="M583.20 644.20H587.00" stroke="#111" stroke-width="1.1"/>
<text x="581.80" y="647.45" font-size="9.0" font-weight="bold" text-anchor="end" >40</text>
<path d="M583.20 626.10H587.00" stroke="#111" stroke-width="1.1"/>
<text x="581.80" y="629.35" font-size="9.0" font-weight="bold" text-anchor="end" >60</text>
<path d="M583.20 607.50H587.00" stroke="#111" stroke-width="1.1"/>
<text x="581.80" y="610.75" font-size="9.0" font-weight="bold" text-anchor="end" >80</text>
<path d="M583.20 589.40H587.00" stroke="#111" stroke-width="1.1"/>
<text x="581.80" y="592.65" font-size="9.0" font-weight="bold" text-anchor="end" >100</text>
<path d="M604.70 640.30V595.10H631.40V600.70" stroke="#111" stroke-width="0.95" fill="none"/>
<path d="M615.00 585.45L615.00 591.15M612.53 586.88L617.47 589.72M617.47 586.88L612.53 589.72" stroke="#000" stroke-width="1.6"/>
<path d="M621.60 585.45L621.60 591.15M619.13 586.88L624.07 589.72M624.07 586.88L619.13 589.72" stroke="#000" stroke-width="1.6"/>
<text transform="translate(547.00,634.50) rotate(-90)" font-size="10.1" font-weight="bold" text-anchor="middle" dominant-baseline="central">IFN&#945;<tspan font-size="7.0" dy="-3.90">+</tspan><tspan dy="3.90"> Freq (%) of</tspan></text>
<text transform="translate(560.50,634.50) rotate(-90)" font-size="10.1" font-weight="bold" text-anchor="middle" dominant-baseline="central">Siglec-H<tspan font-size="7.0" dy="-3.90">+</tspan><tspan dy="3.90">PDCA1</tspan><tspan font-size="7.0" dy="-3.90">+</tspan><tspan dy="3.90"> of CD11c</tspan><tspan font-size="7.0" dy="-3.90">+</tspan><tspan dy="3.90"> DCs</tspan></text>
<text transform="translate(608.00,693.00) rotate(-45)" font-size="10.0" font-weight="bold" text-anchor="end"><tspan font-style="italic">Trim21</tspan><tspan font-size="7.2" dy="-4.2">+/+</tspan><tspan dy="4.2"> B6.</tspan><tspan font-style="italic">lpr</tspan></text>
<text transform="translate(634.25,693.00) rotate(-45)" font-size="10.0" font-weight="bold" text-anchor="end"><tspan font-style="italic">Trim21</tspan><tspan font-size="7.2" dy="-4.2">-/-</tspan><tspan dy="4.2"> B6.</tspan><tspan font-style="italic">lpr</tspan></text>
<path d="M102.20 817.10V814.20M98.20 814.20H106.20" stroke="#000" stroke-width="1" fill="none"/>
<rect x="67.40" y="834.40" width="17.60" height="36.40" fill="#fff" stroke="#000" stroke-width="1"/>
<rect x="93.70" y="817.10" width="17.00" height="53.70" fill="#a31a14" stroke="#000" stroke-width="1"/>
<circle cx="69.20" cy="834.70" r="1.9" fill="#fff" stroke="#000" stroke-width="1.0"/>
<circle cx="73.90" cy="832.50" r="1.9" fill="#fff" stroke="#000" stroke-width="1.0"/>
<circle cx="78.40" cy="834.50" r="1.9" fill="#fff" stroke="#000" stroke-width="1.0"/>
<circle cx="83.10" cy="832.70" r="1.9" fill="#fff" stroke="#000" stroke-width="1.0"/>
<circle cx="102.30" cy="792.60" r="1.9" fill="#fff" stroke="#000" stroke-width="1.0"/>
<circle cx="102.30" cy="800.00" r="1.9" fill="#fff" stroke="#000" stroke-width="1.0"/>
<circle cx="109.40" cy="804.60" r="1.9" fill="#fff" stroke="#000" stroke-width="1.0"/>
<circle cx="100.10" cy="807.00" r="1.9" fill="#fff" stroke="#000" stroke-width="1.0"/>
<circle cx="104.60" cy="807.60" r="1.9" fill="#fff" stroke="#000" stroke-width="1.0"/>
<circle cx="100.10" cy="811.00" r="1.9" fill="#fff" stroke="#000" stroke-width="1.0"/>
<circle cx="95.30" cy="813.50" r="1.9" fill="#fff" stroke="#000" stroke-width="1.0"/>
<circle cx="100.10" cy="816.10" r="1.9" fill="#fff" stroke="#000" stroke-width="1.0"/>
<circle cx="104.60" cy="816.10" r="1.9" fill="#fff" stroke="#000" stroke-width="1.0"/>
<circle cx="104.60" cy="820.70" r="1.9" fill="#fff" stroke="#000" stroke-width="1.0"/>
<circle cx="100.10" cy="823.30" r="1.9" fill="#fff" stroke="#000" stroke-width="1.0"/>
<circle cx="95.30" cy="831.30" r="1.9" fill="#fff" stroke="#000" stroke-width="1.0"/>
<circle cx="100.10" cy="830.90" r="1.9" fill="#fff" stroke="#000" stroke-width="1.0"/>
<circle cx="104.60" cy="832.80" r="1.9" fill="#fff" stroke="#000" stroke-width="1.0"/>
<circle cx="109.40" cy="831.30" r="1.9" fill="#fff" stroke="#000" stroke-width="1.0"/>
<circle cx="100.10" cy="835.50" r="1.9" fill="#fff" stroke="#000" stroke-width="1.0"/>
<path d="M58.70 779.80V870.80H119.60" stroke="#111" stroke-width="1.1" fill="none"/>
<path d="M54.90 870.80H58.70" stroke="#111" stroke-width="1.1"/>
<text x="53.50" y="874.05" font-size="9.0" font-weight="bold" text-anchor="end" >0.0</text>
<path d="M54.90 852.50H58.70" stroke="#111" stroke-width="1.1"/>
<text x="53.50" y="855.75" font-size="9.0" font-weight="bold" text-anchor="end" >0.5</text>
<path d="M54.90 834.40H58.70" stroke="#111" stroke-width="1.1"/>
<text x="53.50" y="837.65" font-size="9.0" font-weight="bold" text-anchor="end" >1.0</text>
<path d="M54.90 816.20H58.70" stroke="#111" stroke-width="1.1"/>
<text x="53.50" y="819.45" font-size="9.0" font-weight="bold" text-anchor="end" >1.5</text>
<path d="M54.90 797.80H58.70" stroke="#111" stroke-width="1.1"/>
<text x="53.50" y="801.05" font-size="9.0" font-weight="bold" text-anchor="end" >2.0</text>
<path d="M54.90 779.80H58.70" stroke="#111" stroke-width="1.1"/>
<text x="53.50" y="783.05" font-size="9.0" font-weight="bold" text-anchor="end" >2.5</text>
<path d="M75.90 823.20V780.10H102.50V785.00" stroke="#111" stroke-width="0.95" fill="none"/>
<path d="M89.30 770.85L89.30 776.55M86.83 772.28L91.77 775.12M91.77 772.28L86.83 775.12" stroke="#000" stroke-width="1.6"/>
<text transform="translate(21.90,824.00) rotate(-90)" font-size="10.1" font-weight="bold" text-anchor="middle" dominant-baseline="central">p-Sting MFI</text>
<text transform="translate(34.20,824.00) rotate(-90)" font-size="10.1" font-weight="bold" text-anchor="middle" dominant-baseline="central">(relative to Sting)</text>
<text transform="translate(79.20,883.20) rotate(-45)" font-size="10.0" font-weight="bold" text-anchor="end"><tspan font-style="italic">Trim21</tspan><tspan font-size="7.2" dy="-4.2">+/+</tspan><tspan dy="4.2"> B6.</tspan><tspan font-style="italic">lpr</tspan></text>
<text transform="translate(105.20,883.20) rotate(-45)" font-size="10.0" font-weight="bold" text-anchor="end"><tspan font-style="italic">Trim21</tspan><tspan font-size="7.2" dy="-4.2">-/-</tspan><tspan dy="4.2"> B6.</tspan><tspan font-style="italic">lpr</tspan></text>
<path d="M189.00 835.30V831.70M185.00 831.70H193.00" stroke="#000" stroke-width="1" fill="none"/>
<path d="M215.20 821.70V818.00M211.20 818.00H219.20" stroke="#000" stroke-width="1" fill="none"/>
<rect x="180.40" y="835.30" width="17.20" height="35.40" fill="#fff" stroke="#000" stroke-width="1"/>
<rect x="206.90" y="821.70" width="16.60" height="49.00" fill="#a31a14" stroke="#000" stroke-width="1"/>
<circle cx="189.10" cy="826.90" r="1.9" fill="#fff" stroke="#000" stroke-width="1.0"/>
<circle cx="185.50" cy="834.40" r="1.9" fill="#fff" stroke="#000" stroke-width="1.0"/>
<circle cx="192.90" cy="837.80" r="1.9" fill="#fff" stroke="#000" stroke-width="1.0"/>
<circle cx="185.50" cy="840.00" r="1.9" fill="#fff" stroke="#000" stroke-width="1.0"/>
<circle cx="215.30" cy="795.50" r="1.9" fill="#fff" stroke="#000" stroke-width="1.0"/>
<circle cx="215.30" cy="804.00" r="1.9" fill="#fff" stroke="#000" stroke-width="1.0"/>
<circle cx="212.80" cy="808.70" r="1.9" fill="#fff" stroke="#000" stroke-width="1.0"/>
<circle cx="217.60" cy="808.90" r="1.9" fill="#fff" stroke="#000" stroke-width="1.0"/>
<circle cx="215.30" cy="816.50" r="1.9" fill="#fff" stroke="#000" stroke-width="1.0"/>
<circle cx="212.80" cy="822.20" r="1.9" fill="#fff" stroke="#000" stroke-width="1.0"/>
<circle cx="217.60" cy="823.30" r="1.9" fill="#fff" stroke="#000" stroke-width="1.0"/>
<circle cx="222.20" cy="821.10" r="1.9" fill="#fff" stroke="#000" stroke-width="1.0"/>
<circle cx="208.30" cy="824.10" r="1.9" fill="#fff" stroke="#000" stroke-width="1.0"/>
<circle cx="212.80" cy="826.40" r="1.9" fill="#fff" stroke="#000" stroke-width="1.0"/>
<circle cx="217.60" cy="827.90" r="1.9" fill="#fff" stroke="#000" stroke-width="1.0"/>
<circle cx="208.30" cy="828.30" r="1.9" fill="#fff" stroke="#000" stroke-width="1.0"/>
<circle cx="212.80" cy="831.30" r="1.9" fill="#fff" stroke="#000" stroke-width="1.0"/>
<circle cx="217.60" cy="833.20" r="1.9" fill="#fff" stroke="#000" stroke-width="1.0"/>
<circle cx="222.20" cy="831.30" r="1.9" fill="#fff" stroke="#000" stroke-width="1.0"/>
<circle cx="215.30" cy="843.50" r="1.9" fill="#fff" stroke="#000" stroke-width="1.0"/>
<path d="M171.70 779.60V870.70H232.60" stroke="#111" stroke-width="1.1" fill="none"/>
<path d="M167.90 870.70H171.70" stroke="#111" stroke-width="1.1"/>
<text x="166.50" y="873.95" font-size="9.0" font-weight="bold" text-anchor="end" >0.0</text>
<path d="M167.90 852.30H171.70" stroke="#111" stroke-width="1.1"/>
<text x="166.50" y="855.55" font-size="9.0" font-weight="bold" text-anchor="end" >0.5</text>
<path d="M167.90 834.50H171.70" stroke="#111" stroke-width="1.1"/>
<text x="166.50" y="837.75" font-size="9.0" font-weight="bold" text-anchor="end" >1.0</text>
<path d="M167.90 816.40H171.70" stroke="#111" stroke-width="1.1"/>
<text x="166.50" y="819.65" font-size="9.0" font-weight="bold" text-anchor="end" >1.5</text>
<path d="M167.90 797.70H171.70" stroke="#111" stroke-width="1.1"/>
<text x="166.50" y="800.95" font-size="9.0" font-weight="bold" text-anchor="end" >2.0</text>
<path d="M167.90 779.60H171.70" stroke="#111" stroke-width="1.1"/>
<text x="166.50" y="782.85" font-size="9.0" font-weight="bold" text-anchor="end" >2.5</text>
<path d="M189.20 817.80V782.20H215.10V787.20" stroke="#111" stroke-width="0.95" fill="none"/>
<path d="M202.30 772.55L202.30 778.25M199.83 773.98L204.77 776.82M204.77 773.98L199.83 776.82" stroke="#000" stroke-width="1.6"/>
<text transform="translate(133.70,824.00) rotate(-90)" font-size="10.1" font-weight="bold" text-anchor="middle" dominant-baseline="central">p-Tbk1 MFI</text>
<text transform="translate(145.90,824.00) rotate(-90)" font-size="10.1" font-weight="bold" text-anchor="middle" dominant-baseline="central">(relative to Tbk1)</text>
<text transform="translate(192.00,883.10) rotate(-45)" font-size="10.0" font-weight="bold" text-anchor="end"><tspan font-style="italic">Trim21</tspan><tspan font-size="7.2" dy="-4.2">+/+</tspan><tspan dy="4.2"> B6.</tspan><tspan font-style="italic">lpr</tspan></text>
<text transform="translate(218.20,883.10) rotate(-45)" font-size="10.0" font-weight="bold" text-anchor="end"><tspan font-style="italic">Trim21</tspan><tspan font-size="7.2" dy="-4.2">-/-</tspan><tspan dy="4.2"> B6.</tspan><tspan font-style="italic">lpr</tspan></text>
<path d="M299.90 867.20V864.30M295.90 864.30H303.90" stroke="#000" stroke-width="1" fill="none"/>
<path d="M326.00 823.10V818.60M322.00 818.60H330.00" stroke="#000" stroke-width="1" fill="none"/>
<rect x="291.30" y="867.20" width="17.20" height="3.50" fill="#fff" stroke="#000" stroke-width="1"/>
<rect x="317.60" y="823.10" width="16.80" height="47.60" fill="#a31a14" stroke="#000" stroke-width="1"/>
<circle cx="299.70" cy="860.00" r="1.9" fill="#fff" stroke="#000" stroke-width="1.0"/>
<circle cx="293.00" cy="869.10" r="1.9" fill="#fff" stroke="#000" stroke-width="1.0"/>
<circle cx="296.40" cy="869.10" r="1.9" fill="#fff" stroke="#000" stroke-width="1.0"/>
<circle cx="299.70" cy="869.10" r="1.9" fill="#fff" stroke="#000" stroke-width="1.0"/>
<circle cx="303.10" cy="869.10" r="1.9" fill="#fff" stroke="#000" stroke-width="1.0"/>
<circle cx="306.60" cy="869.10" r="1.9" fill="#fff" stroke="#000" stroke-width="1.0"/>
<circle cx="325.80" cy="785.40" r="1.9" fill="#fff" stroke="#000" stroke-width="1.0"/>
<circle cx="325.80" cy="804.40" r="1.9" fill="#fff" stroke="#000" stroke-width="1.0"/>
<circle cx="318.90" cy="812.60" r="1.9" fill="#fff" stroke="#000" stroke-width="1.0"/>
<circle cx="322.40" cy="813.30" r="1.9" fill="#fff" stroke="#000" stroke-width="1.0"/>
<circle cx="325.80" cy="813.00" r="1.9" fill="#fff" stroke="#000" stroke-width="1.0"/>
<circle cx="329.30" cy="815.10" r="1.9" fill="#fff" stroke="#000" stroke-width="1.0"/>
<circle cx="332.80" cy="813.30" r="1.9" fill="#fff" stroke="#000" stroke-width="1.0"/>
<circle cx="325.80" cy="824.00" r="1.9" fill="#fff" stroke="#000" stroke-width="1.0"/>
<circle cx="318.90" cy="828.50" r="1.9" fill="#fff" stroke="#000" stroke-width="1.0"/>
<circle cx="322.40" cy="830.40" r="1.9" fill="#fff" stroke="#000" stroke-width="1.0"/>
<circle cx="329.30" cy="831.10" r="1.9" fill="#fff" stroke="#000" stroke-width="1.0"/>
<circle cx="332.80" cy="830.10" r="1.9" fill="#fff" stroke="#000" stroke-width="1.0"/>
<circle cx="329.30" cy="836.50" r="1.9" fill="#fff" stroke="#000" stroke-width="1.0"/>
<circle cx="325.80" cy="839.40" r="1.9" fill="#fff" stroke="#000" stroke-width="1.0"/>
<circle cx="329.30" cy="841.80" r="1.9" fill="#fff" stroke="#000" stroke-width="1.0"/>
<circle cx="322.40" cy="845.10" r="1.9" fill="#fff" stroke="#000" stroke-width="1.0"/>
<path d="M282.20 779.60V870.70H343.80" stroke="#111" stroke-width="1.1" fill="none"/>
<path d="M278.40 870.70H282.20" stroke="#111" stroke-width="1.1"/>
<text x="277.00" y="873.95" font-size="9.0" font-weight="bold" text-anchor="end" >0</text>
<path d="M278.40 848.00H282.20" stroke="#111" stroke-width="1.1"/>
<text x="277.00" y="851.25" font-size="9.0" font-weight="bold" text-anchor="end" >10</text>
<path d="M278.40 825.20H282.20" stroke="#111" stroke-width="1.1"/>
<text x="277.00" y="828.45" font-size="9.0" font-weight="bold" text-anchor="end" >20</text>
<path d="M278.40 802.40H282.20" stroke="#111" stroke-width="1.1"/>
<text x="277.00" y="805.65" font-size="9.0" font-weight="bold" text-anchor="end" >30</text>
<path d="M278.40 779.60H282.20" stroke="#111" stroke-width="1.1"/>
<text x="277.00" y="782.85" font-size="9.0" font-weight="bold" text-anchor="end" >40</text>
<path d="M299.70 853.70V774.40H326.00V779.60" stroke="#111" stroke-width="0.95" fill="none"/>
<path d="M306.30 765.05L306.30 770.75M303.83 766.48L308.77 769.32M308.77 766.48L303.83 769.32" stroke="#000" stroke-width="1.6"/>
<path d="M312.90 765.05L312.90 770.75M310.43 766.48L315.37 769.32M315.37 766.48L310.43 769.32" stroke="#000" stroke-width="1.6"/>
<path d="M319.50 765.05L319.50 770.75M317.03 766.48L321.97 769.32M321.97 766.48L317.03 769.32" stroke="#000" stroke-width="1.6"/>
<text transform="translate(248.00,824.00) rotate(-90)" font-size="10.1" font-weight="bold" text-anchor="middle" dominant-baseline="central">p-Irf3 MFI</text>
<text transform="translate(260.30,824.00) rotate(-90)" font-size="10.1" font-weight="bold" text-anchor="middle" dominant-baseline="central">(relative to Irf3)</text>
<text transform="translate(302.90,883.10) rotate(-45)" font-size="10.0" font-weight="bold" text-anchor="end"><tspan font-style="italic">Trim21</tspan><tspan font-size="7.2" dy="-4.2">+/+</tspan><tspan dy="4.2"> B6.</tspan><tspan font-style="italic">lpr</tspan></text>
<text transform="translate(329.00,883.10) rotate(-45)" font-size="10.0" font-weight="bold" text-anchor="end"><tspan font-style="italic">Trim21</tspan><tspan font-size="7.2" dy="-4.2">-/-</tspan><tspan dy="4.2"> B6.</tspan><tspan font-style="italic">lpr</tspan></text>
<path d="M443.40 823.40V821.00M439.40 821.00H447.40" stroke="#000" stroke-width="1" fill="none"/>
<rect x="408.40" y="849.70" width="17.40" height="21.30" fill="#fff" stroke="#000" stroke-width="1"/>
<rect x="435.30" y="823.40" width="16.20" height="47.60" fill="#a31a14" stroke="#000" stroke-width="1"/>
<circle cx="413.40" cy="847.90" r="1.9" fill="#fff" stroke="#000" stroke-width="1.0"/>
<circle cx="413.40" cy="853.00" r="1.9" fill="#fff" stroke="#000" stroke-width="1.0"/>
<circle cx="420.90" cy="846.20" r="1.9" fill="#fff" stroke="#000" stroke-width="1.0"/>
<circle cx="420.90" cy="850.40" r="1.9" fill="#fff" stroke="#000" stroke-width="1.0"/>
<circle cx="441.00" cy="804.00" r="1.9" fill="#fff" stroke="#000" stroke-width="1.0"/>
<circle cx="445.50" cy="807.40" r="1.9" fill="#fff" stroke="#000" stroke-width="1.0"/>
<circle cx="436.50" cy="810.80" r="1.9" fill="#fff" stroke="#000" stroke-width="1.0"/>
<circle cx="450.20" cy="813.80" r="1.9" fill="#fff" stroke="#000" stroke-width="1.0"/>
<circle cx="436.50" cy="816.80" r="1.9" fill="#fff" stroke="#000" stroke-width="1.0"/>
<circle cx="441.00" cy="816.00" r="1.9" fill="#fff" stroke="#000" stroke-width="1.0"/>
<circle cx="445.50" cy="819.10" r="1.9" fill="#fff" stroke="#000" stroke-width="1.0"/>
<circle cx="450.20" cy="820.00" r="1.9" fill="#fff" stroke="#000" stroke-width="1.0"/>
<circle cx="436.50" cy="820.70" r="1.9" fill="#fff" stroke="#000" stroke-width="1.0"/>
<circle cx="441.00" cy="820.00" r="1.9" fill="#fff" stroke="#000" stroke-width="1.0"/>
<circle cx="443.20" cy="825.40" r="1.9" fill="#fff" stroke="#000" stroke-width="1.0"/>
<circle cx="443.20" cy="830.50" r="1.9" fill="#fff" stroke="#000" stroke-width="1.0"/>
<circle cx="445.50" cy="835.60" r="1.9" fill="#fff" stroke="#000" stroke-width="1.0"/>
<circle cx="441.00" cy="838.50" r="1.9" fill="#fff" stroke="#000" stroke-width="1.0"/>
<circle cx="445.50" cy="844.20" r="1.9" fill="#fff" stroke="#000" stroke-width="1.0"/>
<circle cx="441.00" cy="847.20" r="1.9" fill="#fff" stroke="#000" stroke-width="1.0"/>
<path d="M399.80 779.90V871.00H460.90" stroke="#111" stroke-width="1.1" fill="none"/>
<path d="M396.00 871.00H399.80" stroke="#111" stroke-width="1.1"/>
<text x="394.60" y="874.25" font-size="9.0" font-weight="bold" text-anchor="end" >0</text>
<path d="M396.00 848.20H399.80" stroke="#111" stroke-width="1.1"/>
<text x="394.60" y="851.45" font-size="9.0" font-weight="bold" text-anchor="end" >1</text>
<path d="M396.00 825.40H399.80" stroke="#111" stroke-width="1.1"/>
<text x="394.60" y="828.65" font-size="9.0" font-weight="bold" text-anchor="end" >2</text>
<path d="M396.00 802.60H399.80" stroke="#111" stroke-width="1.1"/>
<text x="394.60" y="805.85" font-size="9.0" font-weight="bold" text-anchor="end" >3</text>
<path d="M396.00 779.90H399.80" stroke="#111" stroke-width="1.1"/>
<text x="394.60" y="783.15" font-size="9.0" font-weight="bold" text-anchor="end" >4</text>
<path d="M417.30 838.70V789.30H443.50V797.00" stroke="#111" stroke-width="0.95" fill="none"/>
<path d="M423.60 779.85L423.60 785.55M421.13 781.28L426.07 784.12M426.07 781.28L421.13 784.12" stroke="#000" stroke-width="1.6"/>
<path d="M430.20 779.85L430.20 785.55M427.73 781.28L432.67 784.12M432.67 781.28L427.73 784.12" stroke="#000" stroke-width="1.6"/>
<path d="M436.80 779.85L436.80 785.55M434.33 781.28L439.27 784.12M439.27 781.28L434.33 784.12" stroke="#000" stroke-width="1.6"/>
<text transform="translate(370.80,824.00) rotate(-90)" font-size="10.1" font-weight="bold" text-anchor="middle" dominant-baseline="central">p-Sting MFI</text>
<text transform="translate(383.10,824.00) rotate(-90)" font-size="10.1" font-weight="bold" text-anchor="middle" dominant-baseline="central">(relative to Sting)</text>
<text transform="translate(420.10,883.40) rotate(-45)" font-size="10.0" font-weight="bold" text-anchor="end"><tspan font-style="italic">Trim21</tspan><tspan font-size="7.2" dy="-4.2">+/+</tspan><tspan dy="4.2"> B6.</tspan><tspan font-style="italic">lpr</tspan></text>
<text transform="translate(446.40,883.40) rotate(-45)" font-size="10.0" font-weight="bold" text-anchor="end"><tspan font-style="italic">Trim21</tspan><tspan font-size="7.2" dy="-4.2">-/-</tspan><tspan dy="4.2"> B6.</tspan><tspan font-style="italic">lpr</tspan></text>
<path d="M522.90 848.50V846.70M518.90 846.70H526.90" stroke="#000" stroke-width="1" fill="none"/>
<path d="M548.90 824.50V819.90M544.90 819.90H552.90" stroke="#000" stroke-width="1" fill="none"/>
<rect x="514.30" y="848.50" width="17.20" height="22.40" fill="#fff" stroke="#000" stroke-width="1"/>
<rect x="540.60" y="824.50" width="16.60" height="46.40" fill="#a31a14" stroke="#000" stroke-width="1"/>
<circle cx="522.70" cy="842.60" r="1.9" fill="#fff" stroke="#000" stroke-width="1.0"/>
<circle cx="519.10" cy="848.10" r="1.9" fill="#fff" stroke="#000" stroke-width="1.0"/>
<circle cx="522.70" cy="847.60" r="1.9" fill="#fff" stroke="#000" stroke-width="1.0"/>
<circle cx="526.30" cy="848.30" r="1.9" fill="#fff" stroke="#000" stroke-width="1.0"/>
<circle cx="522.70" cy="853.50" r="1.9" fill="#fff" stroke="#000" stroke-width="1.0"/>
<circle cx="548.80" cy="795.20" r="1.9" fill="#fff" stroke="#000" stroke-width="1.0"/>
<circle cx="548.80" cy="801.20" r="1.9" fill="#fff" stroke="#000" stroke-width="1.0"/>
<circle cx="541.90" cy="808.80" r="1.9" fill="#fff" stroke="#000" stroke-width="1.0"/>
<circle cx="555.80" cy="811.80" r="1.9" fill="#fff" stroke="#000" stroke-width="1.0"/>
<circle cx="541.90" cy="815.10" r="1.9" fill="#fff" stroke="#000" stroke-width="1.0"/>
<circle cx="548.80" cy="818.60" r="1.9" fill="#fff" stroke="#000" stroke-width="1.0"/>
<circle cx="555.80" cy="818.80" r="1.9" fill="#fff" stroke="#000" stroke-width="1.0"/>
<circle cx="548.80" cy="824.20" r="1.9" fill="#fff" stroke="#000" stroke-width="1.0"/>
<circle cx="541.90" cy="828.10" r="1.9" fill="#fff" stroke="#000" stroke-width="1.0"/>
<circle cx="548.80" cy="829.30" r="1.9" fill="#fff" stroke="#000" stroke-width="1.0"/>
<circle cx="541.90" cy="831.70" r="1.9" fill="#fff" stroke="#000" stroke-width="1.0"/>
<circle cx="548.80" cy="834.90" r="1.9" fill="#fff" stroke="#000" stroke-width="1.0"/>
<circle cx="541.90" cy="836.50" r="1.9" fill="#fff" stroke="#000" stroke-width="1.0"/>
<circle cx="555.80" cy="839.60" r="1.9" fill="#fff" stroke="#000" stroke-width="1.0"/>
<circle cx="552.20" cy="844.90" r="1.9" fill="#fff" stroke="#000" stroke-width="1.0"/>
<circle cx="545.40" cy="846.90" r="1.9" fill="#fff" stroke="#000" stroke-width="1.0"/>
<path d="M505.20 779.80V870.90H566.40" stroke="#111" stroke-width="1.1" fill="none"/>
<path d="M501.40 870.90H505.20" stroke="#111" stroke-width="1.1"/>
<text x="500.00" y="874.15" font-size="9.0" font-weight="bold" text-anchor="end" >0</text>
<path d="M501.40 848.10H505.20" stroke="#111" stroke-width="1.1"/>
<text x="500.00" y="851.35" font-size="9.0" font-weight="bold" text-anchor="end" >1</text>
<path d="M501.40 825.30H505.20" stroke="#111" stroke-width="1.1"/>
<text x="500.00" y="828.55" font-size="9.0" font-weight="bold" text-anchor="end" >2</text>
<path d="M501.40 802.60H505.20" stroke="#111" stroke-width="1.1"/>
<text x="500.00" y="805.85" font-size="9.0" font-weight="bold" text-anchor="end" >3</text>
<path d="M501.40 779.80H505.20" stroke="#111" stroke-width="1.1"/>
<text x="500.00" y="783.05" font-size="9.0" font-weight="bold" text-anchor="end" >4</text>
<path d="M522.70 834.10V782.40H549.00V787.70" stroke="#111" stroke-width="0.95" fill="none"/>
<path d="M532.50 772.55L532.50 778.25M530.03 773.98L534.97 776.82M534.97 773.98L530.03 776.82" stroke="#000" stroke-width="1.6"/>
<path d="M539.10 772.55L539.10 778.25M536.63 773.98L541.57 776.82M541.57 773.98L536.63 776.82" stroke="#000" stroke-width="1.6"/>
<text transform="translate(474.50,824.00) rotate(-90)" font-size="10.1" font-weight="bold" text-anchor="middle" dominant-baseline="central">p-Tbk1 MFI</text>
<text transform="translate(487.70,824.00) rotate(-90)" font-size="10.1" font-weight="bold" text-anchor="middle" dominant-baseline="central">(relative to Tbk1)</text>
<text transform="translate(525.90,883.30) rotate(-45)" font-size="10.0" font-weight="bold" text-anchor="end"><tspan font-style="italic">Trim21</tspan><tspan font-size="7.2" dy="-4.2">+/+</tspan><tspan dy="4.2"> B6.</tspan><tspan font-style="italic">lpr</tspan></text>
<text transform="translate(551.90,883.30) rotate(-45)" font-size="10.0" font-weight="bold" text-anchor="end"><tspan font-style="italic">Trim21</tspan><tspan font-size="7.2" dy="-4.2">-/-</tspan><tspan dy="4.2"> B6.</tspan><tspan font-style="italic">lpr</tspan></text>
<path d="M659.15 829.20V824.50M655.15 824.50H663.15" stroke="#000" stroke-width="1" fill="none"/>
<rect x="624.60" y="869.10" width="17.50" height="1.80" fill="#fff" stroke="#000" stroke-width="1"/>
<rect x="650.80" y="829.20" width="16.70" height="41.70" fill="#a31a14" stroke="#000" stroke-width="1"/>
<circle cx="626.30" cy="868.90" r="1.9" fill="#fff" stroke="#000" stroke-width="1.0"/>
<circle cx="630.20" cy="867.90" r="1.9" fill="#fff" stroke="#000" stroke-width="1.0"/>
<circle cx="633.20" cy="868.20" r="1.9" fill="#fff" stroke="#000" stroke-width="1.0"/>
<circle cx="640.10" cy="864.30" r="1.9" fill="#fff" stroke="#000" stroke-width="1.0"/>
<circle cx="640.10" cy="868.90" r="1.9" fill="#fff" stroke="#000" stroke-width="1.0"/>
<circle cx="659.10" cy="788.30" r="1.9" fill="#fff" stroke="#000" stroke-width="1.0"/>
<circle cx="659.10" cy="799.10" r="1.9" fill="#fff" stroke="#000" stroke-width="1.0"/>
<circle cx="656.80" cy="814.00" r="1.9" fill="#fff" stroke="#000" stroke-width="1.0"/>
<circle cx="661.60" cy="817.40" r="1.9" fill="#fff" stroke="#000" stroke-width="1.0"/>
<circle cx="656.80" cy="819.40" r="1.9" fill="#fff" stroke="#000" stroke-width="1.0"/>
<circle cx="656.80" cy="827.20" r="1.9" fill="#fff" stroke="#000" stroke-width="1.0"/>
<circle cx="661.60" cy="826.90" r="1.9" fill="#fff" stroke="#000" stroke-width="1.0"/>
<circle cx="652.30" cy="834.30" r="1.9" fill="#fff" stroke="#000" stroke-width="1.0"/>
<circle cx="656.80" cy="833.00" r="1.9" fill="#fff" stroke="#000" stroke-width="1.0"/>
<circle cx="661.60" cy="834.80" r="1.9" fill="#fff" stroke="#000" stroke-width="1.0"/>
<circle cx="666.20" cy="834.80" r="1.9" fill="#fff" stroke="#000" stroke-width="1.0"/>
<circle cx="656.80" cy="837.10" r="1.9" fill="#fff" stroke="#000" stroke-width="1.0"/>
<circle cx="661.60" cy="838.70" r="1.9" fill="#fff" stroke="#000" stroke-width="1.0"/>
<circle cx="659.10" cy="846.50" r="1.9" fill="#fff" stroke="#000" stroke-width="1.0"/>
<circle cx="656.80" cy="854.30" r="1.9" fill="#fff" stroke="#000" stroke-width="1.0"/>
<circle cx="661.60" cy="853.10" r="1.9" fill="#fff" stroke="#000" stroke-width="1.0"/>
<path d="M615.80 779.40V870.90H677.10" stroke="#111" stroke-width="1.1" fill="none"/>
<path d="M612.00 870.90H615.80" stroke="#111" stroke-width="1.1"/>
<text x="610.60" y="874.15" font-size="9.0" font-weight="bold" text-anchor="end" >0</text>
<path d="M612.00 840.40H615.80" stroke="#111" stroke-width="1.1"/>
<text x="610.60" y="843.65" font-size="9.0" font-weight="bold" text-anchor="end" >10</text>
<path d="M612.00 809.90H615.80" stroke="#111" stroke-width="1.1"/>
<text x="610.60" y="813.15" font-size="9.0" font-weight="bold" text-anchor="end" >20</text>
<path d="M612.00 779.40H615.80" stroke="#111" stroke-width="1.1"/>
<text x="610.60" y="782.65" font-size="9.0" font-weight="bold" text-anchor="end" >30</text>
<path d="M633.30 857.70V775.40H659.60V780.70" stroke="#111" stroke-width="0.95" fill="none"/>
<path d="M639.90 765.55L639.90 771.25M637.43 766.98L642.37 769.82M642.37 766.98L637.43 769.82" stroke="#000" stroke-width="1.6"/>
<path d="M646.50 765.55L646.50 771.25M644.03 766.98L648.97 769.82M648.97 766.98L644.03 769.82" stroke="#000" stroke-width="1.6"/>
<path d="M653.10 765.55L653.10 771.25M650.63 766.98L655.57 769.82M655.57 766.98L650.63 769.82" stroke="#000" stroke-width="1.6"/>
<text transform="translate(581.60,824.00) rotate(-90)" font-size="10.1" font-weight="bold" text-anchor="middle" dominant-baseline="central">p-Irf3 MFI</text>
<text transform="translate(592.70,824.00) rotate(-90)" font-size="10.1" font-weight="bold" text-anchor="middle" dominant-baseline="central">(relative to Irf3)</text>
<text transform="translate(636.35,883.30) rotate(-45)" font-size="10.0" font-weight="bold" text-anchor="end"><tspan font-style="italic">Trim21</tspan><tspan font-size="7.2" dy="-4.2">+/+</tspan><tspan dy="4.2"> B6.</tspan><tspan font-style="italic">lpr</tspan></text>
<text transform="translate(662.15,883.30) rotate(-45)" font-size="10.0" font-weight="bold" text-anchor="end"><tspan font-style="italic">Trim21</tspan><tspan font-size="7.2" dy="-4.2">-/-</tspan><tspan dy="4.2"> B6.</tspan><tspan font-style="italic">lpr</tspan></text>
<path d="M444.7 206.7V297.8H582.4" stroke="#111" stroke-width="1.1" fill="none"/>
<path d="M440.90 297.80H444.7" stroke="#111" stroke-width="1.1"/>
<text x="439.50" y="301.05" font-size="9.0" font-weight="bold" text-anchor="end" >0</text>
<path d="M440.90 267.60H444.7" stroke="#111" stroke-width="1.1"/>
<text x="439.50" y="270.85" font-size="9.0" font-weight="bold" text-anchor="end" >10</text>
<path d="M440.90 237.40H444.7" stroke="#111" stroke-width="1.1"/>
<text x="439.50" y="240.65" font-size="9.0" font-weight="bold" text-anchor="end" >20</text>
<path d="M440.90 206.70H444.7" stroke="#111" stroke-width="1.1"/>
<text x="439.50" y="209.95" font-size="9.0" font-weight="bold" text-anchor="end" >30</text>
<path d="M455.30 297.8V300.8" stroke="#111" stroke-width="1"/>
<text x="455.30" y="313.00" font-size="10" font-weight="bold" text-anchor="middle" >1</text>
<path d="M478.20 297.8V300.8" stroke="#111" stroke-width="1"/>
<text x="478.20" y="313.00" font-size="10" font-weight="bold" text-anchor="middle" >2</text>
<path d="M501.40 297.8V300.8" stroke="#111" stroke-width="1"/>
<text x="501.40" y="313.00" font-size="10" font-weight="bold" text-anchor="middle" >3</text>
<path d="M524.70 297.8V300.8" stroke="#111" stroke-width="1"/>
<text x="524.70" y="313.00" font-size="10" font-weight="bold" text-anchor="middle" >4</text>
<path d="M547.90 297.8V300.8" stroke="#111" stroke-width="1"/>
<text x="547.90" y="313.00" font-size="10" font-weight="bold" text-anchor="middle" >5</text>
<path d="M571.20 297.8V300.8" stroke="#111" stroke-width="1"/>
<text x="571.20" y="313.00" font-size="10" font-weight="bold" text-anchor="middle" >6</text>
<text x="513.80" y="327.30" font-size="9.7" font-weight="bold" text-anchor="middle" >Age (months)</text>
<text transform="translate(422.8,251.7) rotate(-90)" font-size="10.1" font-weight="bold" text-anchor="middle" dominant-baseline="central">IgG2a (mg/ml)</text>
<path d="M502.3 287.5H509.9M506.1 285.3V289.7M504.1 285.3H508.1M525.5 284H533.1M529.3 281.8V286.2M527.3 281.8H531.3M549.0 280H556.6M552.8 277.8V282.2M550.8 277.8H554.8M572.4 274.3H580.0M576.2 272.1V276.5M574.2 272.1H578.2M493.6 292.5H501.2M497.4 290.3V294.7M495.4 290.3H499.4M516.8 290.5H524.4M520.6 288.3V292.7M518.6 288.3H522.6M539.8 293H547.4M543.6 290.8V295.2M541.6 290.8H545.6M563.2 291H570.8M567 288.8V293.2M565 288.8H569" stroke="#111" stroke-width="0.9" fill="none"/>
<circle cx="449.9" cy="297" r="1.9" fill="#fff" stroke="#111" stroke-width="0.9"/>
<circle cx="451.5" cy="297.5" r="1.9" fill="#fff" stroke="#111" stroke-width="0.9"/>
<circle cx="474" cy="297" r="1.9" fill="#fff" stroke="#111" stroke-width="0.9"/>
<circle cx="474" cy="293.5" r="1.9" fill="#fff" stroke="#111" stroke-width="0.9"/>
<circle cx="497.4" cy="283.4" r="1.9" fill="#fff" stroke="#111" stroke-width="0.9"/>
<circle cx="497.4" cy="291.5" r="1.9" fill="#fff" stroke="#111" stroke-width="0.9"/>
<circle cx="495.5" cy="293.6" r="1.9" fill="#fff" stroke="#111" stroke-width="0.9"/>
<circle cx="497.4" cy="297" r="1.9" fill="#fff" stroke="#111" stroke-width="0.9"/>
<circle cx="520.6" cy="275.5" r="1.9" fill="#fff" stroke="#111" stroke-width="0.9"/>
<circle cx="520.6" cy="287" r="1.9" fill="#fff" stroke="#111" stroke-width="0.9"/>
<circle cx="520.6" cy="290.8" r="1.9" fill="#fff" stroke="#111" stroke-width="0.9"/>
<circle cx="519" cy="294.7" r="1.9" fill="#fff" stroke="#111" stroke-width="0.9"/>
<circle cx="520.6" cy="297" r="1.9" fill="#fff" stroke="#111" stroke-width="0.9"/>
<circle cx="543.6" cy="287.5" r="1.9" fill="#fff" stroke="#111" stroke-width="0.9"/>
<circle cx="543.6" cy="292.5" r="1.9" fill="#fff" stroke="#111" stroke-width="0.9"/>
<circle cx="543.6" cy="297" r="1.9" fill="#fff" stroke="#111" stroke-width="0.9"/>
<circle cx="567" cy="276.8" r="1.9" fill="#fff" stroke="#111" stroke-width="0.9"/>
<circle cx="567" cy="289.3" r="1.9" fill="#fff" stroke="#111" stroke-width="0.9"/>
<circle cx="569" cy="292.5" r="1.9" fill="#fff" stroke="#111" stroke-width="0.9"/>
<circle cx="567" cy="297" r="1.9" fill="#fff" stroke="#111" stroke-width="0.9"/>
<circle cx="458.50" cy="297.20" r="1.9" fill="#a31a14" stroke="#111" stroke-width="0.9"/>
<circle cx="460.90" cy="297.20" r="1.9" fill="#a31a14" stroke="#111" stroke-width="0.9"/>
<circle cx="482.70" cy="297.20" r="1.9" fill="#a31a14" stroke="#111" stroke-width="0.9"/>
<circle cx="482.70" cy="294.50" r="1.9" fill="#a31a14" stroke="#111" stroke-width="0.9"/>
<circle cx="506.10" cy="297.20" r="1.9" fill="#a31a14" stroke="#111" stroke-width="0.9"/>
<circle cx="507.00" cy="293.94" r="1.9" fill="#a31a14" stroke="#111" stroke-width="0.9"/>
<circle cx="505.20" cy="290.69" r="1.9" fill="#a31a14" stroke="#111" stroke-width="0.9"/>
<circle cx="506.10" cy="287.43" r="1.9" fill="#a31a14" stroke="#111" stroke-width="0.9"/>
<circle cx="507.00" cy="284.17" r="1.9" fill="#a31a14" stroke="#111" stroke-width="0.9"/>
<circle cx="505.20" cy="280.91" r="1.9" fill="#a31a14" stroke="#111" stroke-width="0.9"/>
<circle cx="506.10" cy="277.66" r="1.9" fill="#a31a14" stroke="#111" stroke-width="0.9"/>
<circle cx="507.00" cy="274.40" r="1.9" fill="#a31a14" stroke="#111" stroke-width="0.9"/>
<circle cx="529.30" cy="297.20" r="1.9" fill="#a31a14" stroke="#111" stroke-width="0.9"/>
<circle cx="530.20" cy="294.01" r="1.9" fill="#a31a14" stroke="#111" stroke-width="0.9"/>
<circle cx="528.40" cy="290.82" r="1.9" fill="#a31a14" stroke="#111" stroke-width="0.9"/>
<circle cx="529.30" cy="287.63" r="1.9" fill="#a31a14" stroke="#111" stroke-width="0.9"/>
<circle cx="530.20" cy="284.44" r="1.9" fill="#a31a14" stroke="#111" stroke-width="0.9"/>
<circle cx="528.40" cy="281.26" r="1.9" fill="#a31a14" stroke="#111" stroke-width="0.9"/>
<circle cx="529.30" cy="278.07" r="1.9" fill="#a31a14" stroke="#111" stroke-width="0.9"/>
<circle cx="530.20" cy="274.88" r="1.9" fill="#a31a14" stroke="#111" stroke-width="0.9"/>
<circle cx="528.40" cy="271.69" r="1.9" fill="#a31a14" stroke="#111" stroke-width="0.9"/>
<circle cx="529.30" cy="268.50" r="1.9" fill="#a31a14" stroke="#111" stroke-width="0.9"/>
<circle cx="529.30" cy="257.50" r="1.9" fill="#a31a14" stroke="#111" stroke-width="0.9"/>
<circle cx="552.80" cy="297.20" r="1.9" fill="#a31a14" stroke="#111" stroke-width="0.9"/>
<circle cx="553.70" cy="294.06" r="1.9" fill="#a31a14" stroke="#111" stroke-width="0.9"/>
<circle cx="551.90" cy="290.92" r="1.9" fill="#a31a14" stroke="#111" stroke-width="0.9"/>
<circle cx="552.80" cy="287.78" r="1.9" fill="#a31a14" stroke="#111" stroke-width="0.9"/>
<circle cx="553.70" cy="284.64" r="1.9" fill="#a31a14" stroke="#111" stroke-width="0.9"/>
<circle cx="551.90" cy="281.50" r="1.9" fill="#a31a14" stroke="#111" stroke-width="0.9"/>
<circle cx="552.80" cy="278.36" r="1.9" fill="#a31a14" stroke="#111" stroke-width="0.9"/>
<circle cx="553.70" cy="275.22" r="1.9" fill="#a31a14" stroke="#111" stroke-width="0.9"/>
<circle cx="551.90" cy="272.08" r="1.9" fill="#a31a14" stroke="#111" stroke-width="0.9"/>
<circle cx="552.80" cy="268.94" r="1.9" fill="#a31a14" stroke="#111" stroke-width="0.9"/>
<circle cx="553.70" cy="265.80" r="1.9" fill="#a31a14" stroke="#111" stroke-width="0.9"/>
<circle cx="552.80" cy="258.20" r="1.9" fill="#a31a14" stroke="#111" stroke-width="0.9"/>
<circle cx="576.20" cy="297.20" r="1.9" fill="#a31a14" stroke="#111" stroke-width="0.9"/>
<circle cx="577.10" cy="293.85" r="1.9" fill="#a31a14" stroke="#111" stroke-width="0.9"/>
<circle cx="575.30" cy="290.50" r="1.9" fill="#a31a14" stroke="#111" stroke-width="0.9"/>
<circle cx="576.20" cy="287.15" r="1.9" fill="#a31a14" stroke="#111" stroke-width="0.9"/>
<circle cx="577.10" cy="283.80" r="1.9" fill="#a31a14" stroke="#111" stroke-width="0.9"/>
<circle cx="575.30" cy="280.45" r="1.9" fill="#a31a14" stroke="#111" stroke-width="0.9"/>
<circle cx="576.20" cy="277.10" r="1.9" fill="#a31a14" stroke="#111" stroke-width="0.9"/>
<circle cx="577.10" cy="273.75" r="1.9" fill="#a31a14" stroke="#111" stroke-width="0.9"/>
<circle cx="575.30" cy="270.40" r="1.9" fill="#a31a14" stroke="#111" stroke-width="0.9"/>
<circle cx="576.20" cy="267.05" r="1.9" fill="#a31a14" stroke="#111" stroke-width="0.9"/>
<circle cx="577.10" cy="263.70" r="1.9" fill="#a31a14" stroke="#111" stroke-width="0.9"/>
<circle cx="575.30" cy="260.35" r="1.9" fill="#a31a14" stroke="#111" stroke-width="0.9"/>
<circle cx="576.20" cy="257.00" r="1.9" fill="#a31a14" stroke="#111" stroke-width="0.9"/>
<circle cx="576.20" cy="216.00" r="1.9" fill="#a31a14" stroke="#111" stroke-width="0.9"/>
<path d="M543.2 285.3V205.1H552.7V252.9" stroke="#111" stroke-width="0.95" fill="none"/>
<path d="M567 270.5V205.1H576.5V210.2" stroke="#111" stroke-width="0.95" fill="none"/>
<path d="M545.00 195.55L545.00 201.25M542.53 196.97L547.47 199.83M547.47 196.97L542.53 199.83" stroke="#000" stroke-width="1.6"/>
<path d="M551.60 195.55L551.60 201.25M549.13 196.97L554.07 199.83M554.07 196.97L549.13 199.83" stroke="#000" stroke-width="1.6"/>
<path d="M571.60 195.55L571.60 201.25M569.13 196.97L574.07 199.83M574.07 196.97L569.13 199.83" stroke="#000" stroke-width="1.6"/>
<circle cx="597.2" cy="207" r="1.9" fill="#fff" stroke="#111" stroke-width="0.9"/>
<circle cx="597.2" cy="220" r="1.9" fill="#a31a14" stroke="#111" stroke-width="0.9"/>
<text x="608.8" y="211" font-size="10" font-weight="bold"><tspan font-style="italic">Trim21</tspan><tspan font-size="7.0" dy="-4.6">+/+</tspan><tspan dy="4.6"> B6.</tspan><tspan font-style="italic">lpr</tspan></text>
<text x="608.8" y="224" font-size="10" font-weight="bold"><tspan font-style="italic">Trim21</tspan><tspan font-size="7.0" dy="-4.6">-/-</tspan><tspan dy="4.6"> B6.</tspan><tspan font-style="italic">lpr</tspan></text>
<text x="0.00" y="15.80" font-size="21" font-weight="bold" text-anchor="start" >a</text>
<text x="199.00" y="15.80" font-size="21" font-weight="bold" text-anchor="start" >b</text>
<text x="311.50" y="15.80" font-size="21" font-weight="bold" text-anchor="start" >c</text>
<text x="436.00" y="15.80" font-size="21" font-weight="bold" text-anchor="start" >d</text>
<text x="-0.30" y="202.00" font-size="21" font-weight="bold" text-anchor="start" >e</text>
<text x="401.50" y="201.30" font-size="21" font-weight="bold" text-anchor="start" >f</text>
<text x="0.00" y="381.80" font-size="21" font-weight="bold" text-anchor="start" >g</text>
<text x="0.50" y="566.30" font-size="21" font-weight="bold" text-anchor="start" >h</text>
<text x="0.50" y="769.40" font-size="21" font-weight="bold" text-anchor="start" >i</text>
<text x="352.00" y="769.40" font-size="21" font-weight="bold" text-anchor="start" >j</text>
</svg></body></html>
